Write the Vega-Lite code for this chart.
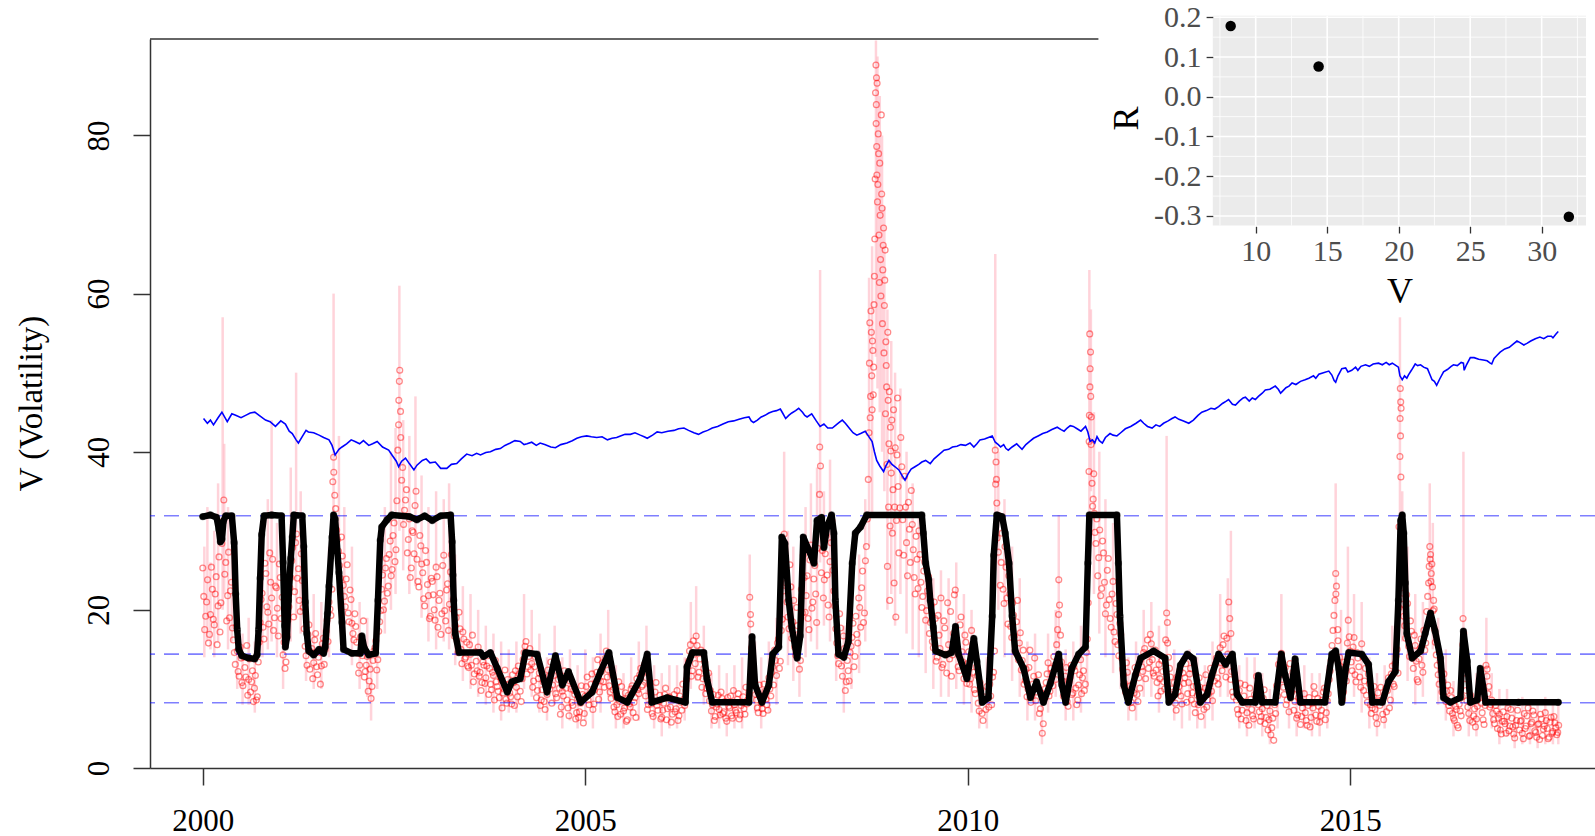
{
"$schema":"https://vega.github.io/schema/vega-lite/v6.json",
"width":1445,"height":729,"autosize":"none",
"padding":{"left":150,"top":39,"right":0,"bottom":68},
"background":"white",
"config":{"view":{"stroke":null},"font":"Liberation Serif","axis":{"grid":false}},
"datasets":{
"red":[{"t":2000,"v":25.3},{"t":2000.025,"v":17.5},{"t":2000.05,"v":21},{"t":2000.075,"v":15.8},{"t":2000.1,"v":19.4},{"t":2000.125,"v":22.6},{"t":2000.15,"v":18.1},{"t":2000.175,"v":24.2},{"t":2000.2,"v":20.5},{"t":2000.225,"v":17.2},{"t":2000.25,"v":28.4},{"t":2000.275,"v":33.9},{"t":2000.3,"v":26},{"t":2000.325,"v":21.8},{"t":2000.35,"v":19},{"t":2000.375,"v":23.5},
{"t":2000.4,"v":16.2},{"t":2000.425,"v":13.1},{"t":2000.45,"v":14.8},{"t":2000.475,"v":11.6},{"t":2000.5,"v":13.9},{"t":2000.525,"v":10.4},{"t":2000.55,"v":12.7},{"t":2000.575,"v":15.5},{"t":2000.6,"v":11.2},{"t":2000.625,"v":9.6},{"t":2000.65,"v":12.3},{"t":2000.675,"v":10.1},{"t":2000.7,"v":8.6},{"t":2000.725,"v":13.4},
{"t":2000.75,"v":18.4},{"t":2000.775,"v":22.1},{"t":2000.8,"v":16.3},{"t":2000.825,"v":24.6},{"t":2000.85,"v":19.7},{"t":2000.875,"v":27.2},{"t":2000.9,"v":21.5},{"t":2000.925,"v":17.4},{"t":2000.95,"v":23},{"t":2000.975,"v":20.2},{"t":2001,"v":25.8},{"t":2001.025,"v":18.9},{"t":2001.05,"v":14.3},{"t":2001.075,"v":12.6},{"t":2001.1,"v":16.8},
{"t":2001.125,"v":20.4},{"t":2001.15,"v":24.1},{"t":2001.175,"v":27.9},{"t":2001.2,"v":22.3},{"t":2001.225,"v":29.6},{"t":2001.25,"v":25.2},{"t":2001.275,"v":19.8},{"t":2001.3,"v":23.7},{"t":2001.325,"v":17.6},{"t":2001.35,"v":14.2},{"t":2001.375,"v":16.9},{"t":2001.4,"v":12.5},{"t":2001.425,"v":15.1},{"t":2001.45,"v":13.3},{"t":2001.475,"v":17},{"t":2001.5,"v":11.8},{"t":2001.525,"v":14.6},{"t":2001.55,"v":12.9},{"t":2001.575,"v":16.4},{"t":2001.6,"v":15},{"t":2001.625,"v":18.7},{"t":2001.65,"v":21},{"t":2001.675,"v":19.3},
{"t":2001.7,"v":36.2},{"t":2001.71,"v":39.3},{"t":2001.725,"v":34.5},{"t":2001.75,"v":30.1},{"t":2001.775,"v":27.4},{"t":2001.8,"v":24},{"t":2001.825,"v":26.8},{"t":2001.85,"v":21.7},{"t":2001.875,"v":23.9},{"t":2001.9,"v":19.6},{"t":2001.925,"v":22.5},{"t":2001.95,"v":18.3},{"t":2001.975,"v":16.2},
{"t":2002,"v":17.9},{"t":2002.025,"v":14.5},{"t":2002.05,"v":13},{"t":2002.075,"v":15.8},{"t":2002.1,"v":18.6},{"t":2002.125,"v":12.2},{"t":2002.15,"v":14.1},{"t":2002.175,"v":11},{"t":2002.2,"v":8.8},{"t":2002.225,"v":13.6},{"t":2002.25,"v":15.2},{"t":2002.275,"v":12.4},{"t":2002.3,"v":17.3},{"t":2002.325,"v":19.9},{"t":2002.35,"v":24.4},{"t":2002.375,"v":21.1},{"t":2002.4,"v":26.5},{"t":2002.425,"v":23},{"t":2002.45,"v":28.7},{"t":2002.475,"v":25.1},{"t":2002.5,"v":31},{"t":2002.525,"v":27.6},{"t":2002.55,"v":40.2},{"t":2002.56,"v":43.4},{"t":2002.57,"v":48.9},{"t":2002.575,"v":50.3},{"t":2002.585,"v":45.1},{"t":2002.6,"v":36.4},{"t":2002.625,"v":30.8},{"t":2002.65,"v":33.9},{"t":2002.675,"v":27.2},{"t":2002.7,"v":31.5},{"t":2002.725,"v":25.3},{"t":2002.75,"v":29.8},{"t":2002.775,"v":33.2},{"t":2002.8,"v":26.4},{"t":2002.825,"v":22.9},{"t":2002.85,"v":28.1},{"t":2002.875,"v":24.7},{"t":2002.9,"v":20.5},{"t":2002.925,"v":26},{"t":2002.95,"v":21.8},{"t":2002.975,"v":19.2},
{"t":2003,"v":23.6},{"t":2003.025,"v":20},{"t":2003.05,"v":25.4},{"t":2003.075,"v":17.8},{"t":2003.1,"v":22.1},{"t":2003.125,"v":19.5},{"t":2003.15,"v":26.9},{"t":2003.175,"v":18.6},{"t":2003.2,"v":23.3},{"t":2003.225,"v":20.7},{"t":2003.25,"v":27},{"t":2003.275,"v":21.4},{"t":2003.3,"v":18},{"t":2003.325,"v":16.1},{"t":2003.35,"v":19.7},{"t":2003.375,"v":15},{"t":2003.4,"v":17.2},{"t":2003.425,"v":13.8},{"t":2003.45,"v":15.9},{"t":2003.475,"v":12.7},{"t":2003.5,"v":14.4},{"t":2003.525,"v":16.8},{"t":2003.55,"v":11.9},{"t":2003.575,"v":13.5},{"t":2003.6,"v":15.3},{"t":2003.625,"v":12.1},{"t":2003.65,"v":10.8},{"t":2003.675,"v":13},{"t":2003.7,"v":11.4},{"t":2003.725,"v":14.2},{"t":2003.75,"v":12.6},{"t":2003.775,"v":9.9},{"t":2003.8,"v":11.7},{"t":2003.825,"v":13.6},{"t":2003.85,"v":10.3},{"t":2003.875,"v":8.9},{"t":2003.9,"v":11.1},{"t":2003.925,"v":9.5},{"t":2003.95,"v":12.4},{"t":2003.975,"v":8.2},
{"t":2004,"v":10.6},{"t":2004.025,"v":9},{"t":2004.05,"v":11.8},{"t":2004.075,"v":7.9},{"t":2004.1,"v":10.2},{"t":2004.125,"v":12.9},{"t":2004.15,"v":9.7},{"t":2004.175,"v":11.3},{"t":2004.2,"v":14.6},{"t":2004.225,"v":16},{"t":2004.25,"v":12.8},{"t":2004.275,"v":15.1},{"t":2004.3,"v":13.2},{"t":2004.325,"v":11},{"t":2004.35,"v":14},{"t":2004.375,"v":9.8},{"t":2004.4,"v":12},{"t":2004.425,"v":8.6},{"t":2004.45,"v":10.9},{"t":2004.475,"v":7.4},{"t":2004.5,"v":9.3},{"t":2004.525,"v":11.6},{"t":2004.55,"v":13.4},{"t":2004.575,"v":10.5},{"t":2004.6,"v":12.7},{"t":2004.625,"v":8.9},{"t":2004.65,"v":11.2},{"t":2004.675,"v":6.8},{"t":2004.7,"v":9.7},{"t":2004.725,"v":12.3},{"t":2004.75,"v":10.1},{"t":2004.775,"v":7.6},{"t":2004.8,"v":11},{"t":2004.825,"v":8.3},{"t":2004.85,"v":9.8},{"t":2004.875,"v":6.2},{"t":2004.9,"v":8.8},{"t":2004.925,"v":7.1},{"t":2004.95,"v":10.4},{"t":2004.975,"v":5.7},
{"t":2005,"v":9.1},{"t":2005.025,"v":11.5},{"t":2005.05,"v":8},{"t":2005.075,"v":10.6},{"t":2005.1,"v":7.4},{"t":2005.125,"v":9.9},{"t":2005.15,"v":12.1},{"t":2005.175,"v":8.7},{"t":2005.2,"v":11},{"t":2005.225,"v":13.3},{"t":2005.25,"v":10.2},{"t":2005.275,"v":14.8},{"t":2005.3,"v":12.4},{"t":2005.325,"v":9.6},{"t":2005.35,"v":11.8},{"t":2005.375,"v":7.7},{"t":2005.4,"v":9},{"t":2005.425,"v":6.5},{"t":2005.45,"v":8.4},{"t":2005.475,"v":10.3},{"t":2005.5,"v":7.2},{"t":2005.525,"v":9.5},{"t":2005.55,"v":6.1},{"t":2005.575,"v":8.1},{"t":2005.6,"v":10},{"t":2005.625,"v":7},{"t":2005.65,"v":8.9},{"t":2005.675,"v":11.3},{"t":2005.7,"v":9.4},{"t":2005.725,"v":12.6},{"t":2005.75,"v":10.5},{"t":2005.775,"v":13.1},{"t":2005.8,"v":11.4},{"t":2005.825,"v":8},{"t":2005.85,"v":9.7},{"t":2005.875,"v":6.9},{"t":2005.9,"v":8.5},{"t":2005.925,"v":10.8},{"t":2005.95,"v":7.3},{"t":2005.975,"v":9.2},
{"t":2006,"v":6.4},{"t":2006.025,"v":8.2},{"t":2006.05,"v":10.1},{"t":2006.075,"v":7.5},{"t":2006.1,"v":9},{"t":2006.125,"v":5.8},{"t":2006.15,"v":8.6},{"t":2006.175,"v":7.1},{"t":2006.2,"v":9.8},{"t":2006.225,"v":6.6},{"t":2006.25,"v":8.3},{"t":2006.275,"v":10.6},{"t":2006.3,"v":7.9},{"t":2006.325,"v":11.2},{"t":2006.35,"v":13.5},{"t":2006.375,"v":15.6},{"t":2006.4,"v":12.3},{"t":2006.425,"v":14.4},{"t":2006.45,"v":16.7},{"t":2006.475,"v":11.5},{"t":2006.5,"v":13.8},{"t":2006.525,"v":10.2},{"t":2006.55,"v":12.6},{"t":2006.575,"v":9.4},{"t":2006.6,"v":11},{"t":2006.625,"v":8.5},{"t":2006.65,"v":7.2},{"t":2006.675,"v":9.3},{"t":2006.7,"v":6.5},{"t":2006.725,"v":8.1},{"t":2006.75,"v":7.4},{"t":2006.775,"v":9.6},{"t":2006.8,"v":6.9},{"t":2006.825,"v":8.4},{"t":2006.85,"v":5.9},{"t":2006.875,"v":7.8},{"t":2006.9,"v":9.1},{"t":2006.925,"v":6.3},{"t":2006.95,"v":8},{"t":2006.975,"v":7},
{"t":2007,"v":9.4},{"t":2007.025,"v":6.7},{"t":2007.05,"v":8.3},{"t":2007.075,"v":7.5},{"t":2007.1,"v":10.2},{"t":2007.125,"v":8.6},{"t":2007.15,"v":21.6},{"t":2007.16,"v":19.4},{"t":2007.175,"v":15.2},{"t":2007.2,"v":11.8},{"t":2007.225,"v":9.3},{"t":2007.25,"v":7.6},{"t":2007.275,"v":10.5},{"t":2007.3,"v":8.2},{"t":2007.325,"v":6.9},{"t":2007.35,"v":9.7},{"t":2007.375,"v":8},{"t":2007.4,"v":11.4},{"t":2007.425,"v":9.1},{"t":2007.45,"v":12.8},{"t":2007.475,"v":14.9},{"t":2007.5,"v":11.7},{"t":2007.525,"v":16.3},{"t":2007.55,"v":13.5},{"t":2007.575,"v":18.8},{"t":2007.6,"v":29.6},{"t":2007.625,"v":23.4},{"t":2007.65,"v":19.1},{"t":2007.675,"v":25.7},{"t":2007.7,"v":16.4},{"t":2007.725,"v":21.2},{"t":2007.75,"v":14.3},{"t":2007.775,"v":18},{"t":2007.8,"v":12.5},{"t":2007.825,"v":22.6},{"t":2007.85,"v":26.9},{"t":2007.875,"v":19.7},{"t":2007.9,"v":24.3},{"t":2007.925,"v":17.5},{"t":2007.95,"v":28.2},{"t":2007.975,"v":21},
{"t":2008,"v":25.6},{"t":2008.025,"v":18.4},{"t":2008.05,"v":30.7},{"t":2008.065,"v":40.6},{"t":2008.075,"v":38.2},{"t":2008.1,"v":27.5},{"t":2008.125,"v":23.8},{"t":2008.15,"v":29.4},{"t":2008.175,"v":20.6},{"t":2008.2,"v":26.1},{"t":2008.225,"v":31.3},{"t":2008.25,"v":22.4},{"t":2008.275,"v":17.6},{"t":2008.3,"v":14.2},{"t":2008.325,"v":19.5},{"t":2008.35,"v":12.9},{"t":2008.375,"v":16.7},{"t":2008.4,"v":9.8},{"t":2008.425,"v":13.6},{"t":2008.45,"v":11},{"t":2008.475,"v":15.4},{"t":2008.5,"v":18.3},{"t":2008.525,"v":14.1},{"t":2008.55,"v":16.9},{"t":2008.575,"v":21.5},{"t":2008.6,"v":17.8},{"t":2008.625,"v":24.9},{"t":2008.65,"v":19.6},{"t":2008.675,"v":28},{"t":2008.7,"v":36.5},{"t":2008.71,"v":42.4},{"t":2008.72,"v":56.3},{"t":2008.73,"v":47},{"t":2008.74,"v":55.1},{"t":2008.75,"v":45.3},{"t":2008.76,"v":52.8},{"t":2008.77,"v":50.7},{"t":2008.78,"v":62.2},{"t":2008.79,"v":74.5},{"t":2008.8,"v":88.9},{"t":2008.805,"v":83.9},{"t":2008.81,"v":78.6},{"t":2008.815,"v":86.6},{"t":2008.82,"v":71.6},{"t":2008.83,"v":80.2},{"t":2008.84,"v":67.4},{"t":2008.85,"v":76.5},{"t":2008.86,"v":64.3},{"t":2008.87,"v":82.6},{"t":2008.88,"v":70.8},{"t":2008.89,"v":63},{"t":2008.9,"v":68.3},{"t":2008.91,"v":58.5},{"t":2008.92,"v":65.5},{"t":2008.93,"v":53.9},{"t":2008.94,"v":48.2},{"t":2008.95,"v":25.5},{"t":2008.96,"v":46.5},{"t":2008.97,"v":41},{"t":2008.98,"v":21.2},{"t":2008.99,"v":43.1},
{"t":2009,"v":37.3},{"t":2009.015,"v":29.7},{"t":2009.03,"v":45.3},{"t":2009.045,"v":33},{"t":2009.06,"v":19.1},{"t":2009.075,"v":39.6},{"t":2009.09,"v":35.6},{"t":2009.1,"v":27.2},{"t":2009.125,"v":41.8},{"t":2009.15,"v":31.4},{"t":2009.175,"v":36.9},{"t":2009.2,"v":28.5},{"t":2009.225,"v":33.6},{"t":2009.25,"v":26},{"t":2009.275,"v":30.8},{"t":2009.3,"v":24.1},{"t":2009.325,"v":29.3},{"t":2009.35,"v":22.7},{"t":2009.375,"v":27},{"t":2009.4,"v":20.3},{"t":2009.425,"v":24.9},{"t":2009.45,"v":18.7},{"t":2009.475,"v":22.4},{"t":2009.5,"v":17},{"t":2009.525,"v":20.6},{"t":2009.55,"v":15.2},{"t":2009.575,"v":18.9},{"t":2009.6,"v":14},{"t":2009.625,"v":16.8},{"t":2009.65,"v":21.5},{"t":2009.675,"v":13.1},{"t":2009.7,"v":17.7},{"t":2009.725,"v":12},{"t":2009.75,"v":15.6},{"t":2009.775,"v":19.8},{"t":2009.8,"v":14.3},{"t":2009.825,"v":21.9},{"t":2009.85,"v":16.2},{"t":2009.875,"v":12.8},{"t":2009.9,"v":18.1},{"t":2009.925,"v":14.7},{"t":2009.95,"v":11.3},{"t":2009.975,"v":15.9},
{"t":2010,"v":13.2},{"t":2010.025,"v":10.6},{"t":2010.05,"v":17.4},{"t":2010.075,"v":12.1},{"t":2010.1,"v":9.4},{"t":2010.125,"v":11.7},{"t":2010.15,"v":7.2},{"t":2010.175,"v":9.9},{"t":2010.2,"v":6},{"t":2010.225,"v":8.6},{"t":2010.25,"v":10.3},{"t":2010.275,"v":7.7},{"t":2010.3,"v":9.1},{"t":2010.325,"v":11.5},{"t":2010.35,"v":14.8},{"t":2010.36,"v":40.2},{"t":2010.37,"v":38.7},{"t":2010.38,"v":33.5},{"t":2010.39,"v":31.6},{"t":2010.4,"v":27.3},{"t":2010.425,"v":23.1},{"t":2010.45,"v":29.7},{"t":2010.475,"v":20.8},{"t":2010.5,"v":25.4},{"t":2010.525,"v":18.2},{"t":2010.55,"v":22},{"t":2010.575,"v":16.5},{"t":2010.6,"v":19.3},{"t":2010.625,"v":14.6},{"t":2010.65,"v":21.2},{"t":2010.675,"v":15.8},{"t":2010.7,"v":12.4},{"t":2010.725,"v":14.9},{"t":2010.75,"v":11.1},{"t":2010.775,"v":9},{"t":2010.8,"v":12.7},{"t":2010.825,"v":8.3},{"t":2010.85,"v":10.6},{"t":2010.875,"v":13.9},{"t":2010.9,"v":9.6},{"t":2010.925,"v":11.8},{"t":2010.95,"v":7.5},{"t":2010.975,"v":4.4},
{"t":2011,"v":8.9},{"t":2011.025,"v":10.8},{"t":2011.05,"v":13.3},{"t":2011.075,"v":9.7},{"t":2011.1,"v":12},{"t":2011.125,"v":14.1},{"t":2011.15,"v":11.2},{"t":2011.175,"v":17.5},{"t":2011.19,"v":23.8},{"t":2011.2,"v":20.6},{"t":2011.225,"v":13.4},{"t":2011.25,"v":9.1},{"t":2011.275,"v":11.6},{"t":2011.3,"v":8.4},{"t":2011.325,"v":10.9},{"t":2011.35,"v":13},{"t":2011.375,"v":9.5},{"t":2011.4,"v":12.3},{"t":2011.425,"v":8},{"t":2011.45,"v":10.5},{"t":2011.475,"v":13.7},{"t":2011.5,"v":11.4},{"t":2011.525,"v":9.8},{"t":2011.55,"v":14.6},{"t":2011.575,"v":20.9},{"t":2011.585,"v":37.5},{"t":2011.59,"v":44.6},{"t":2011.595,"v":54.9},{"t":2011.6,"v":50.5},{"t":2011.605,"v":52.6},{"t":2011.615,"v":44.4},{"t":2011.625,"v":36},{"t":2011.64,"v":34},{"t":2011.655,"v":32.2},{"t":2011.675,"v":28.4},{"t":2011.7,"v":24.3},{"t":2011.725,"v":30.1},{"t":2011.75,"v":22.7},{"t":2011.775,"v":27.2},{"t":2011.8,"v":19.5},{"t":2011.825,"v":25},{"t":2011.85,"v":21.3},{"t":2011.875,"v":17.8},{"t":2011.9,"v":23.6},{"t":2011.925,"v":16},{"t":2011.95,"v":19.4},{"t":2011.975,"v":14.2},
{"t":2012,"v":16.9},{"t":2012.025,"v":12.5},{"t":2012.05,"v":10.7},{"t":2012.075,"v":13.3},{"t":2012.1,"v":8.8},{"t":2012.125,"v":10.4},{"t":2012.15,"v":7.6},{"t":2012.175,"v":9.5},{"t":2012.2,"v":11.9},{"t":2012.225,"v":8.4},{"t":2012.25,"v":10.1},{"t":2012.275,"v":12.8},{"t":2012.3,"v":14.6},{"t":2012.325,"v":11.3},{"t":2012.35,"v":16.2},{"t":2012.375,"v":13.4},{"t":2012.4,"v":15.7},{"t":2012.425,"v":12},{"t":2012.45,"v":14.9},{"t":2012.475,"v":10.8},{"t":2012.5,"v":13.1},{"t":2012.525,"v":9.7},{"t":2012.55,"v":12.2},{"t":2012.575,"v":10},{"t":2012.6,"v":19.6},{"t":2012.61,"v":18.4},{"t":2012.625,"v":14},{"t":2012.65,"v":11.5},{"t":2012.675,"v":8.9},{"t":2012.7,"v":10.8},{"t":2012.725,"v":7.3},{"t":2012.75,"v":9.6},{"t":2012.775,"v":12.4},{"t":2012.8,"v":8.1},{"t":2012.825,"v":10.7},{"t":2012.85,"v":13.2},{"t":2012.875,"v":9.4},{"t":2012.9,"v":11.9},{"t":2012.925,"v":8.6},{"t":2012.95,"v":10.3},{"t":2012.975,"v":7},
{"t":2013,"v":9.2},{"t":2013.025,"v":11.4},{"t":2013.05,"v":6.5},{"t":2013.075,"v":8.8},{"t":2013.1,"v":10.1},{"t":2013.125,"v":7.7},{"t":2013.15,"v":9.4},{"t":2013.175,"v":12.6},{"t":2013.2,"v":8.5},{"t":2013.225,"v":11},{"t":2013.25,"v":13.9},{"t":2013.275,"v":10.6},{"t":2013.3,"v":15.2},{"t":2013.325,"v":12.3},{"t":2013.35,"v":16.7},{"t":2013.375,"v":11.5},{"t":2013.4,"v":14.4},{"t":2013.425,"v":18.9},{"t":2013.44,"v":17},{"t":2013.45,"v":12.2},{"t":2013.475,"v":9},{"t":2013.5,"v":10.9},{"t":2013.525,"v":7.4},{"t":2013.55,"v":9.8},{"t":2013.575,"v":6.2},{"t":2013.6,"v":8.3},{"t":2013.625,"v":10.5},{"t":2013.65,"v":7},{"t":2013.675,"v":5.4},{"t":2013.7,"v":8.7},{"t":2013.725,"v":6.6},{"t":2013.75,"v":9.3},{"t":2013.775,"v":11.6},{"t":2013.8,"v":8},{"t":2013.825,"v":5.9},{"t":2013.85,"v":7.5},{"t":2013.875,"v":9.9},{"t":2013.9,"v":6.4},{"t":2013.925,"v":4.8},{"t":2013.95,"v":7.2},{"t":2013.975,"v":5.1},
{"t":2014,"v":3.5},{"t":2014.025,"v":6.9},{"t":2014.05,"v":9.1},{"t":2014.075,"v":11.8},{"t":2014.1,"v":14.5},{"t":2014.125,"v":10.2},{"t":2014.15,"v":12.7},{"t":2014.175,"v":8.6},{"t":2014.2,"v":7.1},{"t":2014.225,"v":9.7},{"t":2014.25,"v":12.1},{"t":2014.275,"v":8.4},{"t":2014.3,"v":6.3},{"t":2014.325,"v":8.9},{"t":2014.35,"v":5.5},{"t":2014.375,"v":7.6},{"t":2014.4,"v":9.4},{"t":2014.425,"v":6},{"t":2014.45,"v":7.9},{"t":2014.475,"v":5.2},{"t":2014.5,"v":8.2},{"t":2014.525,"v":10.3},{"t":2014.55,"v":6.7},{"t":2014.575,"v":8.8},{"t":2014.6,"v":5.8},{"t":2014.625,"v":7.3},{"t":2014.65,"v":9.6},{"t":2014.675,"v":6.1},{"t":2014.7,"v":8.5},{"t":2014.725,"v":11.2},{"t":2014.75,"v":13.6},{"t":2014.775,"v":17.4},{"t":2014.8,"v":21.2},{"t":2014.81,"v":24.6},{"t":2014.82,"v":23},{"t":2014.84,"v":16.1},{"t":2014.86,"v":12.9},{"t":2014.875,"v":10.4},{"t":2014.9,"v":8.7},{"t":2014.925,"v":13.4},{"t":2014.95,"v":11},{"t":2014.975,"v":18.7},
{"t":2015,"v":14.8},{"t":2015.025,"v":12.3},{"t":2015.05,"v":16.5},{"t":2015.075,"v":10.9},{"t":2015.1,"v":13.9},{"t":2015.125,"v":11.5},{"t":2015.15,"v":15.7},{"t":2015.175,"v":9.8},{"t":2015.2,"v":12.6},{"t":2015.225,"v":8.3},{"t":2015.25,"v":10.7},{"t":2015.275,"v":6.9},{"t":2015.3,"v":9},{"t":2015.325,"v":7.4},{"t":2015.35,"v":5.6},{"t":2015.375,"v":8.5},{"t":2015.4,"v":10.2},{"t":2015.425,"v":6.8},{"t":2015.45,"v":9.3},{"t":2015.475,"v":7.1},{"t":2015.5,"v":11.4},{"t":2015.525,"v":8.6},{"t":2015.55,"v":12.9},{"t":2015.575,"v":10.3},{"t":2015.6,"v":14.2},{"t":2015.625,"v":12},{"t":2015.64,"v":20.3},{"t":2015.65,"v":39.4},{"t":2015.655,"v":48},{"t":2015.66,"v":46.3},{"t":2015.665,"v":45.5},{"t":2015.675,"v":24.6},{"t":2015.69,"v":22.1},{"t":2015.7,"v":19.2},{"t":2015.725,"v":16.4},{"t":2015.75,"v":20.8},{"t":2015.775,"v":14.1},{"t":2015.8,"v":17.3},{"t":2015.825,"v":12.6},{"t":2015.85,"v":15.5},{"t":2015.875,"v":11.2},{"t":2015.9,"v":13.8},{"t":2015.925,"v":16.3},{"t":2015.95,"v":12.1},{"t":2015.975,"v":14.9},
{"t":2016,"v":19.8},{"t":2016.025,"v":23.4},{"t":2016.04,"v":28},{"t":2016.05,"v":27},{"t":2016.06,"v":24.6},{"t":2016.075,"v":22.9},{"t":2016.09,"v":21.2},{"t":2016.1,"v":17.6},{"t":2016.125,"v":14.3},{"t":2016.15,"v":11.8},{"t":2016.175,"v":13.5},{"t":2016.2,"v":9.6},{"t":2016.225,"v":11.9},{"t":2016.25,"v":8.4},{"t":2016.275,"v":10.5},{"t":2016.3,"v":7.2},{"t":2016.325,"v":8.9},{"t":2016.35,"v":6.3},{"t":2016.375,"v":7.8},{"t":2016.4,"v":5.4},{"t":2016.425,"v":8.1},{"t":2016.45,"v":6.6},{"t":2016.475,"v":18.9},{"t":2016.485,"v":17},{"t":2016.5,"v":11.3},{"t":2016.525,"v":8.5},{"t":2016.55,"v":6.9},{"t":2016.575,"v":9.2},{"t":2016.6,"v":5.8},{"t":2016.625,"v":7.5},{"t":2016.65,"v":6.2},{"t":2016.675,"v":8.8},{"t":2016.7,"v":10.1},{"t":2016.725,"v":7},{"t":2016.75,"v":5.5},{"t":2016.775,"v":13},{"t":2016.79,"v":12.5},{"t":2016.8,"v":9.4},{"t":2016.825,"v":7.7},{"t":2016.85,"v":8.6},{"t":2016.875,"v":6.1},{"t":2016.9,"v":7.9},{"t":2016.925,"v":5},{"t":2016.95,"v":6.8},{"t":2016.975,"v":4.3},
{"t":2017,"v":7.1},{"t":2017.025,"v":5.6},{"t":2017.05,"v":6.5},{"t":2017.075,"v":4.7},{"t":2017.1,"v":7.4},{"t":2017.125,"v":5.2},{"t":2017.15,"v":3.8},{"t":2017.175,"v":6},{"t":2017.2,"v":8.3},{"t":2017.225,"v":5.9},{"t":2017.25,"v":4.4},{"t":2017.275,"v":6.9},{"t":2017.3,"v":5.3},{"t":2017.325,"v":7.6},{"t":2017.35,"v":4.1},{"t":2017.375,"v":5.8},{"t":2017.4,"v":6.7},{"t":2017.425,"v":4.5},{"t":2017.45,"v":5.5},{"t":2017.475,"v":3.6},{"t":2017.5,"v":6.2},{"t":2017.525,"v":4.9},{"t":2017.55,"v":7},{"t":2017.575,"v":5},{"t":2017.6,"v":3.9},{"t":2017.625,"v":6.4},{"t":2017.65,"v":4.6},{"t":2017.675,"v":5.7},{"t":2017.7,"v":4.2},{"t":2017.725,"v":5.4}],
"red2":[{"t":2000.0125,"v":21.7},{"t":2000.0375,"v":19.2},{"t":2000.0625,"v":23.8},{"t":2000.0875,"v":16.9},{"t":2000.1125,"v":25.4},{"t":2000.1375,"v":18.8},{"t":2000.1625,"v":22},{"t":2000.1875,"v":15.6},{"t":2000.2125,"v":26.7},{"t":2000.2375,"v":20.9},{"t":2000.2625,"v":31.2},{"t":2000.2875,"v":24.5},{"t":2000.3125,"v":18.6},{"t":2000.3375,"v":27.3},{"t":2000.3625,"v":22.4},{"t":2000.3875,"v":17.7},{"t":2000.4125,"v":14.6},{"t":2000.4375,"v":17.9},{"t":2000.4625,"v":12.2},{"t":2000.4875,"v":15.3},{"t":2000.5125,"v":10.8},{"t":2000.5375,"v":14},{"t":2000.5625,"v":11.5},{"t":2000.5875,"v":9.2},{"t":2000.6125,"v":13.8},{"t":2000.6375,"v":10.9},{"t":2000.6625,"v":8.4},{"t":2000.6875,"v":11.7},{"t":2000.7125,"v":9},{"t":2000.7375,"v":15.9},{"t":2000.7625,"v":21.3},{"t":2000.7875,"v":17.8},{"t":2000.8125,"v":25.9},{"t":2000.8375,"v":20.4},{"t":2000.8625,"v":18.2},{"t":2000.8875,"v":23.5},{"t":2000.9125,"v":26.4},{"t":2000.9375,"v":19},{"t":2000.9625,"v":22.8},{"t":2000.9875,"v":16.7},
{"t":2001.0125,"v":24.1},{"t":2001.0375,"v":21.6},{"t":2001.0625,"v":15.9},{"t":2001.0875,"v":13.4},{"t":2001.1125,"v":18.7},{"t":2001.1375,"v":22.8},{"t":2001.1625,"v":26.2},{"t":2001.1875,"v":19.1},{"t":2001.2125,"v":28.5},{"t":2001.2375,"v":24},{"t":2001.2625,"v":21.2},{"t":2001.2875,"v":27.1},{"t":2001.3125,"v":20.3},{"t":2001.3375,"v":15.4},{"t":2001.3625,"v":13},{"t":2001.3875,"v":18.1},{"t":2001.4125,"v":14.7},{"t":2001.4375,"v":11.3},{"t":2001.4625,"v":16.2},{"t":2001.4875,"v":12.8},{"t":2001.5125,"v":14},{"t":2001.5375,"v":10.6},{"t":2001.5625,"v":15.7},{"t":2001.5875,"v":13.1},{"t":2001.6125,"v":17.3},{"t":2001.6375,"v":16},{"t":2001.6625,"v":20.1},{"t":2001.6875,"v":22.6},{"t":2001.7125,"v":37.4},{"t":2001.7375,"v":32.8},{"t":2001.7625,"v":28.9},{"t":2001.7875,"v":25.6},{"t":2001.8125,"v":29.2},{"t":2001.8375,"v":23.1},{"t":2001.8625,"v":20.4},{"t":2001.8875,"v":25.7},{"t":2001.9125,"v":18.5},{"t":2001.9375,"v":21.3},{"t":2001.9625,"v":17},{"t":2001.9875,"v":19.5},
{"t":2002.0125,"v":15.9},{"t":2002.0375,"v":12},{"t":2002.0625,"v":16.6},{"t":2002.0875,"v":14.2},{"t":2002.1125,"v":11.5},{"t":2002.1375,"v":13},{"t":2002.1625,"v":9.7},{"t":2002.1875,"v":12.5},{"t":2002.2125,"v":10.3},{"t":2002.2375,"v":14.8},{"t":2002.2625,"v":16.1},{"t":2002.2875,"v":13.7},{"t":2002.3125,"v":18.5},{"t":2002.3375,"v":22.6},{"t":2002.3625,"v":20},{"t":2002.3875,"v":25.3},{"t":2002.4125,"v":22.1},{"t":2002.4375,"v":27},{"t":2002.4625,"v":24.3},{"t":2002.4875,"v":29.4},{"t":2002.5125,"v":26.1},{"t":2002.5375,"v":33.8},{"t":2002.5625,"v":46.5},{"t":2002.5875,"v":41.8},{"t":2002.6125,"v":38},{"t":2002.6375,"v":32.6},{"t":2002.6625,"v":35.2},{"t":2002.6875,"v":28.9},{"t":2002.7125,"v":24.1},{"t":2002.7375,"v":30},{"t":2002.7625,"v":27.1},{"t":2002.7875,"v":35},{"t":2002.8125,"v":23.6},{"t":2002.8375,"v":29.4},{"t":2002.8625,"v":25.8},{"t":2002.8875,"v":21.4},{"t":2002.9125,"v":27.5},{"t":2002.9375,"v":23.2},{"t":2002.9625,"v":18.9},{"t":2002.9875,"v":24},
{"t":2003.0125,"v":21.9},{"t":2003.0375,"v":18.7},{"t":2003.0625,"v":24.2},{"t":2003.0875,"v":21.2},{"t":2003.1125,"v":16.9},{"t":2003.1375,"v":25.6},{"t":2003.1625,"v":19.9},{"t":2003.1875,"v":22.5},{"t":2003.2125,"v":17.4},{"t":2003.2375,"v":24.8},{"t":2003.2625,"v":20.1},{"t":2003.2875,"v":16.7},{"t":2003.3125,"v":19},{"t":2003.3375,"v":14.6},{"t":2003.3625,"v":17.6},{"t":2003.3875,"v":13.2},{"t":2003.4125,"v":16.3},{"t":2003.4375,"v":14},{"t":2003.4625,"v":12.9},{"t":2003.4875,"v":15.6},{"t":2003.5125,"v":13},{"t":2003.5375,"v":10.9},{"t":2003.5625,"v":14.7},{"t":2003.5875,"v":12.3},{"t":2003.6125,"v":11.6},{"t":2003.6375,"v":9.8},{"t":2003.6625,"v":13.4},{"t":2003.6875,"v":10.7},{"t":2003.7125,"v":12.9},{"t":2003.7375,"v":9.3},{"t":2003.7625,"v":10.6},{"t":2003.7875,"v":12.1},{"t":2003.8125,"v":8.6},{"t":2003.8375,"v":10.9},{"t":2003.8625,"v":9.7},{"t":2003.8875,"v":11.5},{"t":2003.9125,"v":7.6},{"t":2003.9375,"v":10},{"t":2003.9625,"v":8.7},{"t":2003.9875,"v":11.2},
{"t":2004.0125,"v":9.5},{"t":2004.0375,"v":8.1},{"t":2004.0625,"v":10.8},{"t":2004.0875,"v":12.3},{"t":2004.1125,"v":9},{"t":2004.1375,"v":11.9},{"t":2004.1625,"v":8.4},{"t":2004.1875,"v":13.7},{"t":2004.2125,"v":15.4},{"t":2004.2375,"v":11.9},{"t":2004.2625,"v":14.1},{"t":2004.2875,"v":12.4},{"t":2004.3125,"v":10.2},{"t":2004.3375,"v":12.8},{"t":2004.3625,"v":8.9},{"t":2004.3875,"v":11.3},{"t":2004.4125,"v":7.9},{"t":2004.4375,"v":9.9},{"t":2004.4625,"v":8.4},{"t":2004.4875,"v":10.7},{"t":2004.5125,"v":12.4},{"t":2004.5375,"v":10},{"t":2004.5625,"v":8.2},{"t":2004.5875,"v":11.7},{"t":2004.6125,"v":9.4},{"t":2004.6375,"v":13.2},{"t":2004.6625,"v":10.1},{"t":2004.6875,"v":7.7},{"t":2004.7125,"v":9.1},{"t":2004.7375,"v":11.3},{"t":2004.7625,"v":8.6},{"t":2004.7875,"v":6.6},{"t":2004.8125,"v":10},{"t":2004.8375,"v":7.9},{"t":2004.8625,"v":9.3},{"t":2004.8875,"v":7},{"t":2004.9125,"v":6.4},{"t":2004.9375,"v":8.2},{"t":2004.9625,"v":9.3},{"t":2004.9875,"v":6.9},
{"t":2005.0125,"v":10.3},{"t":2005.0375,"v":8.6},{"t":2005.0625,"v":9.5},{"t":2005.0875,"v":11.9},{"t":2005.1125,"v":8.1},{"t":2005.1375,"v":10.8},{"t":2005.1625,"v":13.7},{"t":2005.1875,"v":9.6},{"t":2005.2125,"v":12.2},{"t":2005.2375,"v":10.9},{"t":2005.2625,"v":13.9},{"t":2005.2875,"v":11.5},{"t":2005.3125,"v":10.4},{"t":2005.3375,"v":8.8},{"t":2005.3625,"v":9.9},{"t":2005.3875,"v":7.1},{"t":2005.4125,"v":8},{"t":2005.4375,"v":10.9},{"t":2005.4625,"v":6.8},{"t":2005.4875,"v":8.7},{"t":2005.5125,"v":7.6},{"t":2005.5375,"v":5.9},{"t":2005.5625,"v":9.2},{"t":2005.5875,"v":7.7},{"t":2005.6125,"v":10.4},{"t":2005.6375,"v":8.3},{"t":2005.6625,"v":6.4},{"t":2005.6875,"v":9.9},{"t":2005.7125,"v":11.8},{"t":2005.7375,"v":10.3},{"t":2005.7625,"v":12.2},{"t":2005.7875,"v":9.1},{"t":2005.8125,"v":7.4},{"t":2005.8375,"v":10.6},{"t":2005.8625,"v":8.1},{"t":2005.8875,"v":6.5},{"t":2005.9125,"v":9.6},{"t":2005.9375,"v":7.9},{"t":2005.9625,"v":8.4},{"t":2005.9875,"v":6.2},
{"t":2006.0125,"v":7.3},{"t":2006.0375,"v":9.3},{"t":2006.0625,"v":6.1},{"t":2006.0875,"v":8.9},{"t":2006.1125,"v":7.7},{"t":2006.1375,"v":6.8},{"t":2006.1625,"v":9.3},{"t":2006.1875,"v":7.5},{"t":2006.2125,"v":6},{"t":2006.2375,"v":9.1},{"t":2006.2625,"v":7.3},{"t":2006.2875,"v":8.7},{"t":2006.3125,"v":9.8},{"t":2006.3375,"v":12.9},{"t":2006.3625,"v":14.8},{"t":2006.3875,"v":11.6},{"t":2006.4125,"v":16.1},{"t":2006.4375,"v":13.2},{"t":2006.4625,"v":15.5},{"t":2006.4875,"v":12.1},{"t":2006.5125,"v":14.9},{"t":2006.5375,"v":11.3},{"t":2006.5625,"v":13.4},{"t":2006.5875,"v":10.1},{"t":2006.6125,"v":12},{"t":2006.6375,"v":9.8},{"t":2006.6625,"v":8},{"t":2006.6875,"v":6},{"t":2006.7125,"v":7.7},{"t":2006.7375,"v":9.2},{"t":2006.7625,"v":6.7},{"t":2006.7875,"v":8.8},{"t":2006.8125,"v":7.1},{"t":2006.8375,"v":6.3},{"t":2006.8625,"v":8.9},{"t":2006.8875,"v":7.6},{"t":2006.9125,"v":6.6},{"t":2006.9375,"v":9.8},{"t":2006.9625,"v":7.3},{"t":2006.9875,"v":8.7},
{"t":2007.0125,"v":6.2},{"t":2007.0375,"v":7.9},{"t":2007.0625,"v":9},{"t":2007.0875,"v":6.8},{"t":2007.1125,"v":8.1},{"t":2007.1375,"v":9.5},{"t":2007.1625,"v":18.2},{"t":2007.1875,"v":13},{"t":2007.2125,"v":10.4},{"t":2007.2375,"v":8.6},{"t":2007.2625,"v":7},{"t":2007.2875,"v":9.1},{"t":2007.3125,"v":7.5},{"t":2007.3375,"v":10.6},{"t":2007.3625,"v":8.7},{"t":2007.3875,"v":7.3},{"t":2007.4125,"v":10},{"t":2007.4375,"v":12.1},{"t":2007.4625,"v":10.5},{"t":2007.4875,"v":13.6},{"t":2007.5125,"v":15.8},{"t":2007.5375,"v":12.6},{"t":2007.5625,"v":17.4},{"t":2007.5875,"v":22.4},{"t":2007.6125,"v":26.5},{"t":2007.6375,"v":21},{"t":2007.6625,"v":17.6},{"t":2007.6875,"v":22.9},{"t":2007.7125,"v":18.5},{"t":2007.7375,"v":15.3},{"t":2007.7625,"v":20.3},{"t":2007.7875,"v":16.9},{"t":2007.8125,"v":13.6},{"t":2007.8375,"v":19.6},{"t":2007.8625,"v":24.1},{"t":2007.8875,"v":21.8},{"t":2007.9125,"v":18.9},{"t":2007.9375,"v":26.3},{"t":2007.9625,"v":20.2},{"t":2007.9875,"v":23.9},
{"t":2008.0125,"v":22},{"t":2008.0375,"v":27.8},{"t":2008.0625,"v":34.6},{"t":2008.0875,"v":24.7},{"t":2008.1125,"v":21.5},{"t":2008.1375,"v":27.1},{"t":2008.1625,"v":24.4},{"t":2008.1875,"v":19.1},{"t":2008.2125,"v":28.5},{"t":2008.2375,"v":25},{"t":2008.2625,"v":20.5},{"t":2008.2875,"v":15.8},{"t":2008.3125,"v":13.2},{"t":2008.3375,"v":17.7},{"t":2008.3625,"v":11.6},{"t":2008.3875,"v":15.1},{"t":2008.4125,"v":10.9},{"t":2008.4375,"v":12.3},{"t":2008.4625,"v":14.6},{"t":2008.4875,"v":16.5},{"t":2008.5125,"v":12.8},{"t":2008.5375,"v":19.2},{"t":2008.5625,"v":15.8},{"t":2008.5875,"v":20.3},{"t":2008.6125,"v":22.8},{"t":2008.6375,"v":18.4},{"t":2008.6625,"v":26.2},{"t":2008.6875,"v":31.5},{"t":2008.715,"v":51.2},{"t":2008.725,"v":44.3},{"t":2008.735,"v":57.8},{"t":2008.745,"v":49.6},{"t":2008.755,"v":54},{"t":2008.765,"v":47.2},{"t":2008.775,"v":58.6},{"t":2008.785,"v":66.9},{"t":2008.795,"v":85.4},{"t":2008.8025,"v":81.5},{"t":2008.8075,"v":87.3},{"t":2008.8125,"v":75},{"t":2008.825,"v":73.8},{"t":2008.835,"v":77.7},{"t":2008.845,"v":61.4},{"t":2008.855,"v":69.9},{"t":2008.865,"v":59.7},{"t":2008.875,"v":72.6},{"t":2008.885,"v":56.2},{"t":2008.895,"v":66.1},{"t":2008.905,"v":52.5},{"t":2008.915,"v":61.7},{"t":2008.925,"v":44.8},{"t":2008.935,"v":50.9},{"t":2008.945,"v":38.4},{"t":2008.955,"v":55.1},{"t":2008.965,"v":33},{"t":2008.975,"v":47.6},{"t":2008.985,"v":30.6},{"t":2008.995,"v":40.1},
{"t":2009.0075,"v":44},{"t":2009.0225,"v":35.2},{"t":2009.0375,"v":23.4},{"t":2009.0525,"v":40.5},{"t":2009.0675,"v":31.3},{"t":2009.0825,"v":46.8},{"t":2009.1125,"v":32.9},{"t":2009.1375,"v":38.1},{"t":2009.1625,"v":26.9},{"t":2009.1875,"v":33},{"t":2009.2125,"v":24.3},{"t":2009.2375,"v":30.2},{"t":2009.2625,"v":35.1},{"t":2009.2875,"v":27.6},{"t":2009.3125,"v":22},{"t":2009.3375,"v":26.4},{"t":2009.3625,"v":30},{"t":2009.3875,"v":23.5},{"t":2009.4125,"v":21.7},{"t":2009.4375,"v":26.1},{"t":2009.4625,"v":19.9},{"t":2009.4875,"v":24.2},{"t":2009.5125,"v":18.4},{"t":2009.5375,"v":16},{"t":2009.5625,"v":21},{"t":2009.5875,"v":13.5},{"t":2009.6125,"v":19.3},{"t":2009.6375,"v":15.1},{"t":2009.6625,"v":12.7},{"t":2009.6875,"v":18.6},{"t":2009.7125,"v":14.4},{"t":2009.7375,"v":20.9},{"t":2009.7625,"v":13.8},{"t":2009.7875,"v":11.6},{"t":2009.8125,"v":17},{"t":2009.8375,"v":22.5},{"t":2009.8625,"v":15},{"t":2009.8875,"v":12.3},{"t":2009.9125,"v":19.1},{"t":2009.9375,"v":13.4},{"t":2009.9625,"v":16.8},{"t":2009.9875,"v":10.7},
{"t":2010.0125,"v":14.7},{"t":2010.0375,"v":11.3},{"t":2010.0625,"v":15.6},{"t":2010.0875,"v":9.9},{"t":2010.1125,"v":12.8},{"t":2010.1375,"v":8.2},{"t":2010.1625,"v":10.8},{"t":2010.1875,"v":6.9},{"t":2010.2125,"v":9},{"t":2010.2375,"v":7.4},{"t":2010.2625,"v":8.8},{"t":2010.2875,"v":10.6},{"t":2010.3125,"v":8},{"t":2010.3375,"v":12.1},{"t":2010.365,"v":35.9},{"t":2010.375,"v":36.5},{"t":2010.385,"v":29.1},{"t":2010.4125,"v":31.9},{"t":2010.4375,"v":26},{"t":2010.4625,"v":22.6},{"t":2010.4875,"v":28},{"t":2010.5125,"v":21.5},{"t":2010.5375,"v":24.3},{"t":2010.5625,"v":17.9},{"t":2010.5875,"v":20.9},{"t":2010.6125,"v":16.7},{"t":2010.6375,"v":18.5},{"t":2010.6625,"v":13.7},{"t":2010.6875,"v":17.1},{"t":2010.7125,"v":13.6},{"t":2010.7375,"v":10.6},{"t":2010.7625,"v":12.5},{"t":2010.7875,"v":10},{"t":2010.8125,"v":14.9},{"t":2010.8375,"v":9.1},{"t":2010.8625,"v":11.6},{"t":2010.8875,"v":8.5},{"t":2010.9125,"v":10.2},{"t":2010.9375,"v":6.9},{"t":2010.9625,"v":9.5},{"t":2010.9875,"v":5.6},
{"t":2011.0125,"v":10},{"t":2011.0375,"v":11.9},{"t":2011.0625,"v":9.1},{"t":2011.0875,"v":12.6},{"t":2011.1125,"v":10.4},{"t":2011.1375,"v":13},{"t":2011.1625,"v":15.6},{"t":2011.1875,"v":19.4},{"t":2011.2125,"v":16.8},{"t":2011.2375,"v":11},{"t":2011.2625,"v":9.8},{"t":2011.2875,"v":12.7},{"t":2011.3125,"v":7.8},{"t":2011.3375,"v":11.4},{"t":2011.3625,"v":9.3},{"t":2011.3875,"v":12.8},{"t":2011.4125,"v":10.1},{"t":2011.4375,"v":8.6},{"t":2011.4625,"v":11.8},{"t":2011.4875,"v":9.4},{"t":2011.5125,"v":12.3},{"t":2011.5375,"v":10.6},{"t":2011.5625,"v":16.3},{"t":2011.5875,"v":41.3},{"t":2011.5975,"v":48.2},{"t":2011.6075,"v":47},{"t":2011.6125,"v":40.9},{"t":2011.6325,"v":33.1},{"t":2011.6475,"v":37.2},{"t":2011.6625,"v":29.8},{"t":2011.6875,"v":31.5},{"t":2011.7125,"v":26.6},{"t":2011.7375,"v":21.8},{"t":2011.7625,"v":28.7},{"t":2011.7875,"v":23.5},{"t":2011.8125,"v":20.6},{"t":2011.8375,"v":26.5},{"t":2011.8625,"v":18.9},{"t":2011.8875,"v":22},{"t":2011.9125,"v":17.2},{"t":2011.9375,"v":20.8},{"t":2011.9625,"v":15.6},{"t":2011.9875,"v":18.3},
{"t":2012.0125,"v":13.9},{"t":2012.0375,"v":11.8},{"t":2012.0625,"v":9.6},{"t":2012.0875,"v":12.1},{"t":2012.1125,"v":9.5},{"t":2012.1375,"v":8.3},{"t":2012.1625,"v":10.7},{"t":2012.1875,"v":12.7},{"t":2012.2125,"v":9.3},{"t":2012.2375,"v":11.4},{"t":2012.2625,"v":13.7},{"t":2012.2875,"v":12.2},{"t":2012.3125,"v":15.1},{"t":2012.3375,"v":14.3},{"t":2012.3625,"v":12.6},{"t":2012.3875,"v":16.9},{"t":2012.4125,"v":13.7},{"t":2012.4375,"v":11.6},{"t":2012.4625,"v":12.4},{"t":2012.4875,"v":9.1},{"t":2012.5125,"v":11.3},{"t":2012.5375,"v":13.6},{"t":2012.5625,"v":10.9},{"t":2012.5875,"v":16.2},{"t":2012.6125,"v":15.8},{"t":2012.6375,"v":12.6},{"t":2012.6625,"v":10},{"t":2012.6875,"v":9.6},{"t":2012.7125,"v":8.2},{"t":2012.7375,"v":11.5},{"t":2012.7625,"v":10.3},{"t":2012.7875,"v":9.1},{"t":2012.8125,"v":12},{"t":2012.8375,"v":11.4},{"t":2012.8625,"v":8.3},{"t":2012.8875,"v":10.8},{"t":2012.9125,"v":12.6},{"t":2012.9375,"v":9.5},{"t":2012.9625,"v":8.1},{"t":2012.9875,"v":10.4},
{"t":2013.0125,"v":8},{"t":2013.0375,"v":10.2},{"t":2013.0625,"v":9.6},{"t":2013.0875,"v":7.4},{"t":2013.1125,"v":11.8},{"t":2013.1375,"v":8.6},{"t":2013.1625,"v":10.6},{"t":2013.1875,"v":9.7},{"t":2013.2125,"v":12.2},{"t":2013.2375,"v":13.1},{"t":2013.2625,"v":11.4},{"t":2013.2875,"v":14.1},{"t":2013.3125,"v":13.3},{"t":2013.3375,"v":15.6},{"t":2013.3625,"v":13},{"t":2013.3875,"v":16.4},{"t":2013.4125,"v":21},{"t":2013.4375,"v":11.2},{"t":2013.4625,"v":9.6},{"t":2013.4875,"v":11.9},{"t":2013.5125,"v":8.6},{"t":2013.5375,"v":6.8},{"t":2013.5625,"v":10.7},{"t":2013.5875,"v":7.3},{"t":2013.6125,"v":9.1},{"t":2013.6375,"v":6},{"t":2013.6625,"v":8.1},{"t":2013.6875,"v":10.1},{"t":2013.7125,"v":7.4},{"t":2013.7375,"v":6.2},{"t":2013.7625,"v":8.5},{"t":2013.7875,"v":10.4},{"t":2013.8125,"v":7.1},{"t":2013.8375,"v":6.5},{"t":2013.8625,"v":8.8},{"t":2013.8875,"v":5.6},{"t":2013.9125,"v":7.9},{"t":2013.9375,"v":6.1},{"t":2013.9625,"v":4.2},{"t":2013.9875,"v":6.3},
{"t":2014.0125,"v":8},{"t":2014.0375,"v":10.4},{"t":2014.0625,"v":13.1},{"t":2014.0875,"v":12},{"t":2014.1125,"v":11.2},{"t":2014.1375,"v":9.3},{"t":2014.1625,"v":8},{"t":2014.1875,"v":10.6},{"t":2014.2125,"v":13.2},{"t":2014.2375,"v":9.6},{"t":2014.2625,"v":7.3},{"t":2014.2875,"v":10},{"t":2014.3125,"v":6.7},{"t":2014.3375,"v":8.4},{"t":2014.3625,"v":6.5},{"t":2014.3875,"v":8.3},{"t":2014.4125,"v":7},{"t":2014.4375,"v":5.4},{"t":2014.4625,"v":8.9},{"t":2014.4875,"v":6.4},{"t":2014.5125,"v":7.6},{"t":2014.5375,"v":9.4},{"t":2014.5625,"v":5.9},{"t":2014.5875,"v":7.8},{"t":2014.6125,"v":6.6},{"t":2014.6375,"v":8.6},{"t":2014.6625,"v":10.1},{"t":2014.6875,"v":7},{"t":2014.7125,"v":9.4},{"t":2014.7375,"v":12.3},{"t":2014.7625,"v":15.5},{"t":2014.7875,"v":19.3},{"t":2014.8125,"v":22},{"t":2014.8375,"v":17.5},{"t":2014.8625,"v":14},{"t":2014.8875,"v":11.9},{"t":2014.9125,"v":9.6},{"t":2014.9375,"v":12.1},{"t":2014.9625,"v":15.8},{"t":2014.9875,"v":16.6},
{"t":2015.0125,"v":13.4},{"t":2015.0375,"v":15.3},{"t":2015.0625,"v":11.8},{"t":2015.0875,"v":14.6},{"t":2015.1125,"v":12.8},{"t":2015.1375,"v":10.2},{"t":2015.1625,"v":14.1},{"t":2015.1875,"v":11},{"t":2015.2125,"v":9.2},{"t":2015.2375,"v":11.9},{"t":2015.2625,"v":8},{"t":2015.2875,"v":7.6},{"t":2015.3125,"v":10.3},{"t":2015.3375,"v":6.4},{"t":2015.3625,"v":9.5},{"t":2015.3875,"v":7.9},{"t":2015.4125,"v":8.6},{"t":2015.4375,"v":6.1},{"t":2015.4625,"v":10},{"t":2015.4875,"v":9.8},{"t":2015.5125,"v":7.6},{"t":2015.5375,"v":11.9},{"t":2015.5625,"v":10.6},{"t":2015.5875,"v":13.2},{"t":2015.6125,"v":15},{"t":2015.6375,"v":30.5},{"t":2015.6525,"v":44.2},{"t":2015.6575,"v":42},{"t":2015.6625,"v":36.8},{"t":2015.6725,"v":27.9},{"t":2015.6825,"v":20.7},{"t":2015.6975,"v":23.7},{"t":2015.7125,"v":18},{"t":2015.7375,"v":21.9},{"t":2015.7625,"v":15.4},{"t":2015.7875,"v":18.6},{"t":2015.8125,"v":13.9},{"t":2015.8375,"v":16.8},{"t":2015.8625,"v":13.5},{"t":2015.8875,"v":10.9},{"t":2015.9125,"v":15.1},{"t":2015.9375,"v":13},{"t":2015.9625,"v":17.4},{"t":2015.9875,"v":15.8},
{"t":2016.0125,"v":21.7},{"t":2016.0325,"v":25.5},{"t":2016.045,"v":26.4},{"t":2016.055,"v":23.6},{"t":2016.0675,"v":25.8},{"t":2016.0825,"v":19.9},{"t":2016.0975,"v":20.1},{"t":2016.1125,"v":15.9},{"t":2016.1375,"v":13},{"t":2016.1625,"v":10.6},{"t":2016.1875,"v":12.4},{"t":2016.2125,"v":10.9},{"t":2016.2375,"v":9},{"t":2016.2625,"v":9.7},{"t":2016.2875,"v":7.9},{"t":2016.3125,"v":9.8},{"t":2016.3375,"v":6.9},{"t":2016.3625,"v":6},{"t":2016.3875,"v":7.4},{"t":2016.4125,"v":5.1},{"t":2016.4375,"v":7.2},{"t":2016.4625,"v":9},{"t":2016.4725,"v":15.6},{"t":2016.4925,"v":13.9},{"t":2016.5125,"v":9.8},{"t":2016.5375,"v":7.7},{"t":2016.5625,"v":6},{"t":2016.5875,"v":8.3},{"t":2016.6125,"v":6.6},{"t":2016.6375,"v":5.2},{"t":2016.6625,"v":7.8},{"t":2016.6875,"v":9.6},{"t":2016.7125,"v":8.2},{"t":2016.7375,"v":6.1},{"t":2016.7625,"v":7.9},{"t":2016.7875,"v":11.6},{"t":2016.8125,"v":10.3},{"t":2016.8375,"v":8},{"t":2016.8625,"v":6.9},{"t":2016.8875,"v":5.6},{"t":2016.9125,"v":7.2},{"t":2016.9375,"v":6.3},{"t":2016.9625,"v":4.8},{"t":2016.9875,"v":5.9},
{"t":2017.0125,"v":5.9},{"t":2017.0375,"v":4.4},{"t":2017.0625,"v":7.6},{"t":2017.0875,"v":5.3},{"t":2017.1125,"v":6.3},{"t":2017.1375,"v":4.3},{"t":2017.1625,"v":5.4},{"t":2017.1875,"v":7.3},{"t":2017.2125,"v":4.8},{"t":2017.2375,"v":6},{"t":2017.2625,"v":3.7},{"t":2017.2875,"v":5},{"t":2017.3125,"v":6.6},{"t":2017.3375,"v":4},{"t":2017.3625,"v":5.6},{"t":2017.3875,"v":7.2},{"t":2017.4125,"v":4.7},{"t":2017.4375,"v":3.9},{"t":2017.4625,"v":5.6},{"t":2017.4875,"v":6.8},{"t":2017.5125,"v":4.1},{"t":2017.5375,"v":5.3},{"t":2017.5625,"v":6},{"t":2017.5875,"v":3.7},{"t":2017.6125,"v":5.8},{"t":2017.6375,"v":4.4},{"t":2017.6625,"v":6.5},{"t":2017.6875,"v":5.1},{"t":2017.7125,"v":4.5}],
"pink":[{"t":2000.02,"l":14,"h":28},{"t":2000.06,"l":16,"h":33},{"t":2000.1,"l":15,"h":26},{"t":2000.15,"l":14,"h":30},{"t":2000.2,"l":16,"h":36},{"t":2000.26,"l":20,"h":57},{"t":2000.28,"l":22,"h":41},{"t":2000.33,"l":15,"h":33},{"t":2000.38,"l":16,"h":30},{"t":2000.45,"l":10,"h":20},{"t":2000.52,"l":8,"h":17},{"t":2000.6,"l":8,"h":19},{"t":2000.68,"l":7,"h":16},{"t":2000.78,"l":14,"h":30},{"t":2000.85,"l":15,"h":34},{"t":2000.9,"l":16,"h":44},{"t":2000.97,"l":14,"h":31},{"t":2001.05,"l":10,"h":22},{"t":2001.15,"l":16,"h":38},{"t":2001.22,"l":19,"h":50},{"t":2001.28,"l":17,"h":35},{"t":2001.35,"l":11,"h":24},{"t":2001.45,"l":10,"h":22},{"t":2001.55,"l":10,"h":21},{"t":2001.65,"l":14,"h":28},{"t":2001.71,"l":28,"h":60},{"t":2001.78,"l":20,"h":42},{"t":2001.85,"l":16,"h":33},{"t":2001.95,"l":13,"h":28},{"t":2002.05,"l":10,"h":21},{"t":2002.15,"l":9,"h":19},{"t":2002.2,"l":6,"h":14},{"t":2002.28,"l":10,"h":24},{"t":2002.38,"l":17,"h":33},{"t":2002.46,"l":20,"h":40},{"t":2002.52,"l":22,"h":43},{"t":2002.57,"l":30,"h":61},{"t":2002.62,"l":25,"h":44},{"t":2002.7,"l":22,"h":42},{"t":2002.78,"l":23,"h":47},{"t":2002.86,"l":19,"h":37},{"t":2002.95,"l":16,"h":33},{"t":2003.05,"l":15,"h":35},{"t":2003.15,"l":16,"h":34},{"t":2003.22,"l":15,"h":36},{"t":2003.3,"l":13,"h":27},{"t":2003.4,"l":11,"h":23},{"t":2003.5,"l":10,"h":22},{"t":2003.6,"l":9,"h":20},{"t":2003.7,"l":8,"h":18},{"t":2003.8,"l":7,"h":17},{"t":2003.9,"l":6,"h":16},{"t":2004,"l":7,"h":15},{"t":2004.1,"l":7,"h":16},{"t":2004.2,"l":10,"h":22},{"t":2004.3,"l":9,"h":20},{"t":2004.4,"l":7,"h":17},{"t":2004.5,"l":6,"h":14},{"t":2004.6,"l":8,"h":18},{"t":2004.7,"l":5,"h":14},{"t":2004.8,"l":6,"h":15},{"t":2004.9,"l":5,"h":13},{"t":2005,"l":6,"h":15},{"t":2005.1,"l":5,"h":14},{"t":2005.2,"l":7,"h":17},{"t":2005.3,"l":9,"h":20},{"t":2005.4,"l":5,"h":13},{"t":2005.5,"l":5,"h":12},{"t":2005.6,"l":6,"h":14},{"t":2005.7,"l":6,"h":16},{"t":2005.8,"l":8,"h":18},{"t":2005.9,"l":5,"h":13},{"t":2006,"l":4,"h":12},{"t":2006.1,"l":5,"h":13},{"t":2006.2,"l":5,"h":13},{"t":2006.3,"l":6,"h":14},{"t":2006.38,"l":10,"h":21},{"t":2006.45,"l":11,"h":23},{"t":2006.55,"l":8,"h":18},{"t":2006.65,"l":5,"h":12},{"t":2006.75,"l":5,"h":13},{"t":2006.85,"l":4,"h":12},{"t":2006.95,"l":5,"h":13},{"t":2007.05,"l":5,"h":14},{"t":2007.15,"l":12,"h":27},{"t":2007.22,"l":7,"h":16},{"t":2007.3,"l":5,"h":14},{"t":2007.4,"l":7,"h":16},{"t":2007.5,"l":8,"h":19},{"t":2007.6,"l":18,"h":40},{"t":2007.65,"l":13,"h":30},{"t":2007.72,"l":11,"h":28},{"t":2007.8,"l":9,"h":22},{"t":2007.88,"l":14,"h":33},{"t":2007.95,"l":16,"h":36},{"t":2008.03,"l":15,"h":38},{"t":2008.07,"l":26,"h":63},{"t":2008.12,"l":18,"h":35},{"t":2008.2,"l":16,"h":39},{"t":2008.28,"l":11,"h":24},{"t":2008.38,"l":7,"h":18},{"t":2008.48,"l":10,"h":22},{"t":2008.58,"l":12,"h":27},{"t":2008.66,"l":16,"h":34},{"t":2008.71,"l":28,"h":62},{"t":2008.75,"l":32,"h":66},{"t":2008.8,"l":52,"h":92},{"t":2008.82,"l":48,"h":90},{"t":2008.85,"l":45,"h":85},{"t":2008.88,"l":40,"h":80},{"t":2008.91,"l":35,"h":71},{"t":2008.95,"l":20,"h":58},{"t":2009,"l":22,"h":54},{"t":2009.05,"l":18,"h":50},{"t":2009.12,"l":22,"h":48},{"t":2009.2,"l":17,"h":40},{"t":2009.28,"l":15,"h":36},{"t":2009.36,"l":14,"h":32},{"t":2009.45,"l":12,"h":28},{"t":2009.55,"l":10,"h":24},{"t":2009.65,"l":9,"h":25},{"t":2009.75,"l":9,"h":24},{"t":2009.85,"l":10,"h":26},{"t":2009.95,"l":8,"h":22},{"t":2010.05,"l":7,"h":20},{"t":2010.15,"l":5,"h":13},{"t":2010.25,"l":5,"h":14},{"t":2010.36,"l":25,"h":65},{"t":2010.4,"l":20,"h":40},{"t":2010.48,"l":14,"h":34},{"t":2010.58,"l":11,"h":28},{"t":2010.68,"l":9,"h":24},{"t":2010.78,"l":6,"h":16},{"t":2010.88,"l":6,"h":17},{"t":2010.97,"l":3,"h":10},{"t":2011.05,"l":7,"h":17},{"t":2011.15,"l":9,"h":20},{"t":2011.19,"l":15,"h":32},{"t":2011.28,"l":6,"h":15},{"t":2011.38,"l":6,"h":16},{"t":2011.48,"l":7,"h":18},{"t":2011.56,"l":10,"h":24},{"t":2011.59,"l":30,"h":63},{"t":2011.61,"l":35,"h":58},{"t":2011.65,"l":22,"h":45},{"t":2011.72,"l":17,"h":40},{"t":2011.8,"l":14,"h":34},{"t":2011.9,"l":12,"h":31},{"t":2012,"l":10,"h":22},{"t":2012.1,"l":6,"h":14},{"t":2012.2,"l":6,"h":16},{"t":2012.3,"l":9,"h":20},{"t":2012.4,"l":9,"h":21},{"t":2012.5,"l":7,"h":18},{"t":2012.6,"l":13,"h":42},{"t":2012.7,"l":6,"h":15},{"t":2012.8,"l":5,"h":14},{"t":2012.9,"l":6,"h":15},{"t":2013,"l":5,"h":14},{"t":2013.1,"l":5,"h":13},{"t":2013.2,"l":6,"h":16},{"t":2013.3,"l":9,"h":22},{"t":2013.4,"l":9,"h":24},{"t":2013.44,"l":12,"h":30},{"t":2013.55,"l":5,"h":13},{"t":2013.65,"l":4,"h":14},{"t":2013.75,"l":5,"h":14},{"t":2013.85,"l":4,"h":12},{"t":2013.95,"l":3,"h":10},{"t":2014.05,"l":5,"h":14},{"t":2014.1,"l":10,"h":22},{"t":2014.2,"l":5,"h":12},{"t":2014.3,"l":4,"h":12},{"t":2014.4,"l":5,"h":13},{"t":2014.5,"l":4,"h":12},{"t":2014.6,"l":4,"h":12},{"t":2014.7,"l":5,"h":13},{"t":2014.81,"l":16,"h":36},{"t":2014.88,"l":8,"h":20},{"t":2014.97,"l":11,"h":28},{"t":2015.05,"l":9,"h":22},{"t":2015.15,"l":7,"h":21},{"t":2015.25,"l":5,"h":14},{"t":2015.35,"l":4,"h":12},{"t":2015.45,"l":5,"h":13},{"t":2015.55,"l":8,"h":18},{"t":2015.65,"l":30,"h":57},{"t":2015.68,"l":16,"h":35},{"t":2015.75,"l":11,"h":28},{"t":2015.85,"l":8,"h":22},{"t":2015.95,"l":9,"h":21},{"t":2016.04,"l":18,"h":36},{"t":2016.08,"l":15,"h":31},{"t":2016.15,"l":8,"h":19},{"t":2016.25,"l":6,"h":15},{"t":2016.35,"l":4,"h":11},{"t":2016.48,"l":11,"h":40},{"t":2016.55,"l":4,"h":12},{"t":2016.65,"l":4,"h":12},{"t":2016.78,"l":8,"h":19},{"t":2016.85,"l":5,"h":12},{"t":2016.95,"l":3,"h":10},{"t":2017.05,"l":4,"h":10},{"t":2017.15,"l":2.5,"h":8},{"t":2017.25,"l":3,"h":9},{"t":2017.35,"l":3,"h":8},{"t":2017.45,"l":2.5,"h":8},{"t":2017.55,"l":3,"h":9},{"t":2017.65,"l":3,"h":8},{"t":2017.72,"l":3,"h":8}],
"black":[{"t":2000,"v":31.8},{"t":2000.1,"v":32},{"t":2000.18,"v":31.7},{"t":2000.21,"v":30.2},{"t":2000.23,"v":28.6},{"t":2000.25,"v":28.9},{"t":2000.27,"v":31.2},{"t":2000.3,"v":31.9},{"t":2000.38,"v":31.9},{"t":2000.41,"v":28.5},{"t":2000.43,"v":22},{"t":2000.45,"v":17.5},{"t":2000.47,"v":15},{"t":2000.51,"v":14.2},{"t":2000.6,"v":13.9},{"t":2000.68,"v":13.8},{"t":2000.71,"v":14.3},{"t":2000.73,"v":17.5},{"t":2000.75,"v":24},{"t":2000.77,"v":29.5},{"t":2000.8,"v":31.9},{"t":2000.9,"v":32},{"t":2001.03,"v":31.9},{"t":2001.05,"v":26},{"t":2001.07,"v":18},{"t":2001.08,"v":15.3},{"t":2001.1,"v":16.5},{"t":2001.12,"v":21.2},{"t":2001.15,"v":26.5},{"t":2001.17,"v":29.2},{"t":2001.19,"v":32},{"t":2001.3,"v":31.9},{"t":2001.32,"v":28},{"t":2001.34,"v":21},{"t":2001.36,"v":17},{"t":2001.385,"v":14.8},{"t":2001.45,"v":14.3},{"t":2001.52,"v":15},{"t":2001.58,"v":14.5},{"t":2001.6,"v":15.3},{"t":2001.63,"v":19.5},{"t":2001.65,"v":23},{"t":2001.69,"v":29.2},{"t":2001.71,"v":32},{"t":2001.73,"v":31.5},{"t":2001.78,"v":24.7},{"t":2001.82,"v":18.4},{"t":2001.84,"v":15},{"t":2001.95,"v":14.5},{"t":2002.06,"v":14.5},{"t":2002.08,"v":16.7},{"t":2002.11,"v":15.2},{"t":2002.17,"v":14.3},{"t":2002.26,"v":14.5},{"t":2002.29,"v":21.2},{"t":2002.32,"v":28.8},{"t":2002.34,"v":30.5},{"t":2002.41,"v":31.4},{"t":2002.47,"v":32},{"t":2002.7,"v":31.8},{"t":2002.8,"v":31.4},{"t":2002.9,"v":31.9},{"t":2003,"v":31.3},{"t":2003.11,"v":31.9},{"t":2003.24,"v":32},{"t":2003.26,"v":28.6},{"t":2003.27,"v":24.4},{"t":2003.28,"v":21.2},{"t":2003.3,"v":17},{"t":2003.35,"v":14.6},{"t":2003.63,"v":14.6},{"t":2003.67,"v":14.1},{"t":2003.76,"v":14.6},{"t":2003.85,"v":12.6},{"t":2003.98,"v":9.6},{"t":2004.04,"v":10.9},{"t":2004.15,"v":11.3},{"t":2004.22,"v":14.6},{"t":2004.37,"v":14.4},{"t":2004.5,"v":9.6},{"t":2004.61,"v":14.2},{"t":2004.7,"v":10.5},{"t":2004.78,"v":12.2},{"t":2004.94,"v":8.3},{"t":2005.09,"v":9.6},{"t":2005.2,"v":12.2},{"t":2005.31,"v":14.6},{"t":2005.42,"v":8.9},{"t":2005.55,"v":8.3},{"t":2005.72,"v":11.3},{"t":2005.81,"v":14.4},{"t":2005.87,"v":8.3},{"t":2006.07,"v":8.9},{"t":2006.31,"v":8.3},{"t":2006.33,"v":12.8},{"t":2006.4,"v":14.6},{"t":2006.55,"v":14.6},{"t":2006.59,"v":11.3},{"t":2006.66,"v":8.3},{"t":2007.14,"v":8.3},{"t":2007.18,"v":16.6},{"t":2007.22,"v":10.5},{"t":2007.31,"v":8.3},{"t":2007.4,"v":10.5},{"t":2007.45,"v":14.4},{"t":2007.53,"v":15.3},{"t":2007.57,"v":29.2},{"t":2007.61,"v":28.4},{"t":2007.66,"v":21.2},{"t":2007.7,"v":17.8},{"t":2007.77,"v":13.9},{"t":2007.81,"v":16.7},{"t":2007.85,"v":29.2},{"t":2007.92,"v":27.6},{"t":2007.99,"v":25.9},{"t":2008.03,"v":31.3},{"t":2008.09,"v":31.7},{"t":2008.12,"v":27.9},{"t":2008.16,"v":30.5},{"t":2008.22,"v":32},{"t":2008.25,"v":29.7},{"t":2008.27,"v":21.2},{"t":2008.31,"v":14.4},{"t":2008.38,"v":14},{"t":2008.44,"v":16},{"t":2008.49,"v":25.9},{"t":2008.53,"v":29.7},{"t":2008.6,"v":30.5},{"t":2008.68,"v":32},{"t":2009.4,"v":32},{"t":2009.42,"v":29.7},{"t":2009.45,"v":25.9},{"t":2009.49,"v":23.8},{"t":2009.51,"v":21.2},{"t":2009.55,"v":17.8},{"t":2009.58,"v":14.8},{"t":2009.71,"v":14.3},{"t":2009.79,"v":14.6},{"t":2009.84,"v":17.9},{"t":2009.88,"v":14.4},{"t":2009.99,"v":11.3},{"t":2010.08,"v":16.4},{"t":2010.12,"v":13.5},{"t":2010.19,"v":8.3},{"t":2010.27,"v":8.9},{"t":2010.32,"v":19.2},{"t":2010.34,"v":26.9},{"t":2010.38,"v":32},{"t":2010.45,"v":31.8},{"t":2010.49,"v":29.7},{"t":2010.54,"v":25.9},{"t":2010.58,"v":19.2},{"t":2010.62,"v":14.8},{"t":2010.73,"v":12.6},{"t":2010.82,"v":8.9},{"t":2010.9,"v":10.9},{"t":2010.99,"v":8.3},{"t":2011.08,"v":10.7},{"t":2011.19,"v":14.4},{"t":2011.23,"v":10.5},{"t":2011.28,"v":8.3},{"t":2011.36,"v":12.6},{"t":2011.45,"v":14.4},{"t":2011.54,"v":15.3},{"t":2011.57,"v":25.9},{"t":2011.59,"v":32},{"t":2011.95,"v":32},{"t":2011.97,"v":25.9},{"t":2011.99,"v":19.2},{"t":2012.04,"v":10.5},{"t":2012.1,"v":8.3},{"t":2012.19,"v":11.7},{"t":2012.26,"v":13.9},{"t":2012.43,"v":14.8},{"t":2012.58,"v":13.9},{"t":2012.63,"v":8.3},{"t":2012.71,"v":9.3},{"t":2012.78,"v":13},{"t":2012.87,"v":14.4},{"t":2012.95,"v":13.8},{"t":2013.04,"v":8.3},{"t":2013.13,"v":9.3},{"t":2013.19,"v":11.7},{"t":2013.28,"v":14.4},{"t":2013.37,"v":13.1},{"t":2013.46,"v":14.4},{"t":2013.52,"v":9.3},{"t":2013.59,"v":8.3},{"t":2013.76,"v":8.3},{"t":2013.8,"v":11.7},{"t":2013.85,"v":8.3},{"t":2014.02,"v":8.3},{"t":2014.1,"v":14.4},{"t":2014.15,"v":11.7},{"t":2014.22,"v":8.9},{"t":2014.28,"v":13.8},{"t":2014.35,"v":8.3},{"t":2014.67,"v":8.3},{"t":2014.76,"v":14.4},{"t":2014.81,"v":14.8},{"t":2014.85,"v":12.6},{"t":2014.89,"v":8.3},{"t":2014.94,"v":12.6},{"t":2014.98,"v":14.6},{"t":2015.15,"v":14.4},{"t":2015.24,"v":13.1},{"t":2015.29,"v":8.3},{"t":2015.42,"v":8.3},{"t":2015.5,"v":10.9},{"t":2015.59,"v":12.2},{"t":2015.63,"v":21.2},{"t":2015.66,"v":31.3},{"t":2015.68,"v":32},{"t":2015.7,"v":29.7},{"t":2015.72,"v":23.4},{"t":2015.74,"v":17},{"t":2015.81,"v":13.9},{"t":2015.92,"v":14.8},{"t":2015.98,"v":17},{"t":2016.05,"v":19.6},{"t":2016.11,"v":17.3},{"t":2016.18,"v":13.9},{"t":2016.22,"v":8.9},{"t":2016.31,"v":8.3},{"t":2016.44,"v":8.9},{"t":2016.48,"v":17.3},{"t":2016.53,"v":13.5},{"t":2016.57,"v":8.3},{"t":2016.66,"v":8.6},{"t":2016.7,"v":12.6},{"t":2016.77,"v":8.3},{"t":2017.2,"v":8.3},{"t":2017.72,"v":8.3}],
"blue":[{"t":2000.01,"s":44.2},{"t":2000.06,"s":43.6},{"t":2000.1,"s":44},{"t":2000.14,"s":43.4},{"t":2000.2,"s":44.3},{"t":2000.25,"s":45},{"t":2000.32,"s":43.8},{"t":2000.38,"s":44.8},{"t":2000.43,"s":44.6},{"t":2000.5,"s":44.3},{"t":2000.56,"s":44.6},{"t":2000.62,"s":44.9},{"t":2000.68,"s":45},{"t":2000.75,"s":44.5},{"t":2000.82,"s":44},{"t":2000.88,"s":43.8},{"t":2000.95,"s":43.2},{"t":2001.02,"s":43.9},{"t":2001.08,"s":43.5},{"t":2001.13,"s":42.6},{"t":2001.17,"s":42.3},{"t":2001.22,"s":41.5},{"t":2001.25,"s":41.1},{"t":2001.3,"s":41.9},{"t":2001.35,"s":42.7},{"t":2001.38,"s":42.5},{"t":2001.45,"s":42.4},{"t":2001.52,"s":42.1},{"t":2001.58,"s":41.8},{"t":2001.65,"s":41.5},{"t":2001.69,"s":40.8},{"t":2001.73,"s":39.6},{"t":2001.78,"s":40.3},{"t":2001.82,"s":40.6},{"t":2001.88,"s":41},{"t":2001.94,"s":41.5},{"t":2001.99,"s":41.3},{"t":2002.05,"s":41},{"t":2002.1,"s":41.4},{"t":2002.17,"s":40.8},{"t":2002.22,"s":41},{"t":2002.28,"s":41.3},{"t":2002.35,"s":40.6},{"t":2002.43,"s":40.2},{"t":2002.48,"s":39.5},{"t":2002.53,"s":38.8},{"t":2002.56,"s":38.1},{"t":2002.6,"s":38.8},{"t":2002.65,"s":39.2},{"t":2002.7,"s":38.5},{"t":2002.76,"s":37.7},{"t":2002.8,"s":38.3},{"t":2002.87,"s":38.9},{"t":2002.92,"s":39.1},{"t":2002.97,"s":38.6},{"t":2003.04,"s":38.7},{"t":2003.11,"s":37.9},{"t":2003.19,"s":37.9},{"t":2003.25,"s":38.4},{"t":2003.32,"s":38.5},{"t":2003.38,"s":39.1},{"t":2003.45,"s":39.7},{"t":2003.52,"s":39.5},{"t":2003.58,"s":39.8},{"t":2003.63,"s":39.6},{"t":2003.7,"s":39.9},{"t":2003.76,"s":40},{"t":2003.83,"s":40.3},{"t":2003.89,"s":40.4},{"t":2003.95,"s":40.8},{"t":2004.02,"s":41.1},{"t":2004.08,"s":41.4},{"t":2004.15,"s":41.3},{"t":2004.2,"s":40.9},{"t":2004.24,"s":41},{"t":2004.3,"s":41.2},{"t":2004.36,"s":40.8},{"t":2004.41,"s":41.1},{"t":2004.47,"s":40.9},{"t":2004.55,"s":40.6},{"t":2004.61,"s":40.5},{"t":2004.68,"s":40.9},{"t":2004.76,"s":41.1},{"t":2004.83,"s":41.4},{"t":2004.89,"s":41.7},{"t":2004.95,"s":41.9},{"t":2005.02,"s":42},{"t":2005.08,"s":41.9},{"t":2005.15,"s":41.8},{"t":2005.22,"s":41.9},{"t":2005.29,"s":41.5},{"t":2005.35,"s":41.7},{"t":2005.41,"s":41.8},{"t":2005.46,"s":42},{"t":2005.52,"s":42.2},{"t":2005.59,"s":42.2},{"t":2005.65,"s":42.4},{"t":2005.72,"s":42.1},{"t":2005.77,"s":41.9},{"t":2005.81,"s":41.7},{"t":2005.88,"s":42.1},{"t":2005.94,"s":42.5},{"t":2006,"s":42.4},{"t":2006.08,"s":42.6},{"t":2006.16,"s":42.7},{"t":2006.22,"s":42.9},{"t":2006.29,"s":43},{"t":2006.35,"s":42.7},{"t":2006.42,"s":42.4},{"t":2006.48,"s":42.2},{"t":2006.54,"s":42.5},{"t":2006.6,"s":42.7},{"t":2006.66,"s":43},{"t":2006.73,"s":43.2},{"t":2006.8,"s":43.5},{"t":2006.87,"s":43.8},{"t":2006.94,"s":43.9},{"t":2007.01,"s":44.1},{"t":2007.08,"s":44.3},{"t":2007.14,"s":44.4},{"t":2007.17,"s":43.9},{"t":2007.2,"s":43.7},{"t":2007.25,"s":44},{"t":2007.3,"s":44.4},{"t":2007.35,"s":44.6},{"t":2007.4,"s":44.9},{"t":2007.45,"s":45.1},{"t":2007.5,"s":45.2},{"t":2007.55,"s":45.4},{"t":2007.58,"s":44.9},{"t":2007.62,"s":44.2},{"t":2007.66,"s":44.6},{"t":2007.7,"s":44.9},{"t":2007.75,"s":45.2},{"t":2007.79,"s":45.5},{"t":2007.84,"s":45},{"t":2007.87,"s":44.6},{"t":2007.9,"s":44.4},{"t":2007.96,"s":44.8},{"t":2008.02,"s":43.9},{"t":2008.07,"s":43.2},{"t":2008.12,"s":43.5},{"t":2008.17,"s":43},{"t":2008.23,"s":43},{"t":2008.28,"s":43.4},{"t":2008.32,"s":43.7},{"t":2008.36,"s":44},{"t":2008.4,"s":43.6},{"t":2008.45,"s":43},{"t":2008.5,"s":42.4},{"t":2008.55,"s":42.1},{"t":2008.6,"s":42.3},{"t":2008.66,"s":42.6},{"t":2008.7,"s":42},{"t":2008.75,"s":41.3},{"t":2008.78,"s":40},{"t":2008.81,"s":38.9},{"t":2008.85,"s":38.2},{"t":2008.9,"s":37.5},{"t":2008.93,"s":38.2},{"t":2008.97,"s":38.9},{"t":2009.01,"s":38.4},{"t":2009.05,"s":38.1},{"t":2009.1,"s":37.7},{"t":2009.14,"s":37},{"t":2009.18,"s":36.4},{"t":2009.22,"s":37.2},{"t":2009.26,"s":37.8},{"t":2009.31,"s":38.1},{"t":2009.36,"s":38.4},{"t":2009.4,"s":38.7},{"t":2009.45,"s":38.9},{"t":2009.51,"s":38.5},{"t":2009.56,"s":39.1},{"t":2009.62,"s":39.6},{"t":2009.69,"s":40.2},{"t":2009.75,"s":40.3},{"t":2009.8,"s":40.6},{"t":2009.86,"s":40.7},{"t":2009.91,"s":40.9},{"t":2009.97,"s":40.8},{"t":2010.03,"s":41.1},{"t":2010.08,"s":40.6},{"t":2010.12,"s":41},{"t":2010.16,"s":41.5},{"t":2010.22,"s":41.6},{"t":2010.27,"s":41.8},{"t":2010.32,"s":42},{"t":2010.36,"s":41.2},{"t":2010.4,"s":40.9},{"t":2010.43,"s":40.6},{"t":2010.47,"s":40.9},{"t":2010.5,"s":40.4},{"t":2010.53,"s":40.2},{"t":2010.58,"s":40.6},{"t":2010.64,"s":41},{"t":2010.68,"s":40.6},{"t":2010.71,"s":40.3},{"t":2010.76,"s":40.9},{"t":2010.81,"s":41.3},{"t":2010.86,"s":41.7},{"t":2010.92,"s":42},{"t":2010.98,"s":42.3},{"t":2011.04,"s":42.5},{"t":2011.1,"s":42.8},{"t":2011.17,"s":43.1},{"t":2011.22,"s":42.8},{"t":2011.26,"s":42.6},{"t":2011.3,"s":43},{"t":2011.34,"s":43.3},{"t":2011.38,"s":43.2},{"t":2011.43,"s":42.9},{"t":2011.48,"s":42.6},{"t":2011.54,"s":43.2},{"t":2011.57,"s":42.5},{"t":2011.6,"s":41.3},{"t":2011.63,"s":41.5},{"t":2011.66,"s":41.1},{"t":2011.69,"s":41.9},{"t":2011.72,"s":41.4},{"t":2011.76,"s":41.1},{"t":2011.8,"s":41.8},{"t":2011.86,"s":42.3},{"t":2011.9,"s":42.1},{"t":2011.95,"s":42},{"t":2012,"s":42.4},{"t":2012.06,"s":42.9},{"t":2012.13,"s":43.2},{"t":2012.2,"s":43.6},{"t":2012.26,"s":44},{"t":2012.3,"s":43.6},{"t":2012.35,"s":43.2},{"t":2012.41,"s":43},{"t":2012.46,"s":43.4},{"t":2012.51,"s":43.2},{"t":2012.56,"s":43.6},{"t":2012.62,"s":43.9},{"t":2012.67,"s":44.2},{"t":2012.71,"s":44.4},{"t":2012.76,"s":44.1},{"t":2012.82,"s":43.9},{"t":2012.89,"s":43.6},{"t":2012.95,"s":44},{"t":2013.01,"s":44.6},{"t":2013.06,"s":45},{"t":2013.12,"s":45.2},{"t":2013.18,"s":45.5},{"t":2013.23,"s":45.4},{"t":2013.28,"s":45.7},{"t":2013.33,"s":46.1},{"t":2013.38,"s":46.4},{"t":2013.41,"s":46.6},{"t":2013.46,"s":46},{"t":2013.5,"s":45.9},{"t":2013.55,"s":46.4},{"t":2013.6,"s":46.8},{"t":2013.63,"s":46.9},{"t":2013.68,"s":46.4},{"t":2013.72,"s":46.8},{"t":2013.76,"s":46.6},{"t":2013.8,"s":47},{"t":2013.85,"s":47.4},{"t":2013.89,"s":47.8},{"t":2013.95,"s":47.9},{"t":2014.02,"s":48.3},{"t":2014.06,"s":47.9},{"t":2014.09,"s":47.4},{"t":2014.11,"s":47.6},{"t":2014.16,"s":48.1},{"t":2014.2,"s":48.3},{"t":2014.24,"s":48.7},{"t":2014.29,"s":48.5},{"t":2014.35,"s":48.9},{"t":2014.41,"s":49.1},{"t":2014.46,"s":49.3},{"t":2014.52,"s":49.6},{"t":2014.55,"s":49.3},{"t":2014.59,"s":49.8},{"t":2014.65,"s":50},{"t":2014.72,"s":50.2},{"t":2014.76,"s":49.7},{"t":2014.79,"s":49},{"t":2014.81,"s":48.8},{"t":2014.84,"s":49.6},{"t":2014.89,"s":50.5},{"t":2014.94,"s":50.6},{"t":2014.97,"s":50.1},{"t":2015.02,"s":50.3},{"t":2015.07,"s":50.7},{"t":2015.1,"s":50.3},{"t":2015.14,"s":50.8},{"t":2015.2,"s":51},{"t":2015.25,"s":50.8},{"t":2015.3,"s":51.1},{"t":2015.37,"s":51.2},{"t":2015.42,"s":51},{"t":2015.47,"s":51.3},{"t":2015.51,"s":51},{"t":2015.55,"s":51.2},{"t":2015.6,"s":50.9},{"t":2015.63,"s":50.7},{"t":2015.65,"s":49.6},{"t":2015.68,"s":49.1},{"t":2015.71,"s":49.6},{"t":2015.74,"s":49.3},{"t":2015.76,"s":49.7},{"t":2015.8,"s":50.3},{"t":2015.85,"s":51.1},{"t":2015.88,"s":50.9},{"t":2015.92,"s":51},{"t":2015.96,"s":50.7},{"t":2016.01,"s":50.5},{"t":2016.04,"s":49.8},{"t":2016.07,"s":49.1},{"t":2016.1,"s":48.9},{"t":2016.13,"s":48.4},{"t":2016.17,"s":49.2},{"t":2016.22,"s":50.1},{"t":2016.27,"s":50.4},{"t":2016.32,"s":50.8},{"t":2016.35,"s":51},{"t":2016.4,"s":50.9},{"t":2016.45,"s":51.3},{"t":2016.48,"s":51.2},{"t":2016.49,"s":50.3},{"t":2016.52,"s":51},{"t":2016.57,"s":51.9},{"t":2016.62,"s":51.9},{"t":2016.68,"s":51.7},{"t":2016.74,"s":51.6},{"t":2016.79,"s":51.5},{"t":2016.83,"s":51.2},{"t":2016.85,"s":51.1},{"t":2016.88,"s":51.8},{"t":2016.92,"s":52.2},{"t":2016.96,"s":52.6},{"t":2017.02,"s":53},{"t":2017.08,"s":53.2},{"t":2017.13,"s":53.6},{"t":2017.18,"s":54},{"t":2017.22,"s":53.8},{"t":2017.27,"s":53.5},{"t":2017.31,"s":53.7},{"t":2017.36,"s":54},{"t":2017.42,"s":54.3},{"t":2017.48,"s":54.5},{"t":2017.53,"s":54.3},{"t":2017.58,"s":54.6},{"t":2017.63,"s":54.6},{"t":2017.65,"s":54.4},{"t":2017.69,"s":54.9},{"t":2017.72,"s":55.2}],
"states":[{"V":8.25,"R":0.178},{"V":14.4,"R":0.076},{"V":31.9,"R":-0.302}],
"majV":[{"g":10},{"g":15},{"g":20},{"g":25},{"g":30}],
"minV":[{"g":7.5},{"g":12.5},{"g":17.5},{"g":22.5},{"g":27.5},{"g":32.5}],
"majR":[{"g":-0.3},{"g":-0.2},{"g":-0.1},{"g":0},{"g":0.1},{"g":0.2}],
"minR":[{"g":-0.25},{"g":-0.15},{"g":-0.05},{"g":0.05},{"g":0.15}]
},
"layer":[
{"layer":[
 {"data":{"name":"pink"},"mark":{"type":"rule","color":"#ffc0cb","strokeWidth":2.5,"opacity":0.7},
  "encoding":{
   "x":{"field":"t","type":"quantitative","scale":{"domain":[1999.31,2018.2],"nice":false,"zero":false},
     "axis":{"values":[2000,2005,2010,2015],"format":"d","title":null,"tickSize":17,"tickWidth":1.5,"tickColor":"#333","domainColor":"#333","domainWidth":1.5,"labelFontSize":31,"labelFont":"Liberation Serif","labelColor":"#000","labelPadding":45,"labelBaseline":"alphabetic","labelFlush":false,"labelOverlap":false,"orient":"bottom"}},
   "y":{"field":"l","type":"quantitative","scale":{"domain":[0,92.2],"nice":false,"zero":false},
     "axis":{"values":[0,20,40,60,80],"title":"V (Volatility)","titleFont":"Liberation Serif","titleFontSize":33,"titleFontWeight":"normal","titleColor":"#000","titleAngle":270,"titleX":-109,"titleY":364,"titleAlign":"center","titleBaseline":"alphabetic","tickSize":17,"tickWidth":1.5,"tickColor":"#333","domainColor":"#333","domainWidth":1.5,"labelFontSize":31,"labelFont":"Liberation Serif","labelColor":"#000","labelAngle":270,"labelAlign":"center","labelBaseline":"alphabetic","labelPadding":25,"labelFlush":false,"labelOverlap":false,"orient":"left"}},
   "y2":{"field":"h"}}},
 {"data":{"name":"red"},"mark":{"type":"point","shape":"circle","filled":false,"stroke":"#ff0000","strokeOpacity":0.65,"strokeWidth":1.3,"size":34},
  "encoding":{"x":{"field":"t","type":"quantitative","scale":{"domain":[1999.31,2018.2],"nice":false,"zero":false}},
   "y":{"field":"v","type":"quantitative","scale":{"domain":[0,92.2],"nice":false,"zero":false}}}},
 {"data":{"name":"red2"},"mark":{"type":"point","shape":"circle","filled":false,"stroke":"#ff0000","strokeOpacity":0.65,"strokeWidth":1.3,"size":34},
  "encoding":{"x":{"field":"t","type":"quantitative","scale":{"domain":[1999.31,2018.2],"nice":false,"zero":false}},
   "y":{"field":"v","type":"quantitative","scale":{"domain":[0,92.2],"nice":false,"zero":false}}}},
 {"data":{"name":"blue"},"mark":{"type":"line","color":"#0000ff","strokeWidth":1.6},
  "encoding":{"x":{"field":"t","type":"quantitative","scale":{"domain":[1999.31,2018.2],"nice":false,"zero":false}},
   "y":{"field":"s","type":"quantitative","scale":{"domain":[0,92.2],"nice":false,"zero":false}}}},
 {"data":{"name":"states"},"mark":{"type":"rule","color":"#0000ff","opacity":0.5,"strokeWidth":1.6,"strokeDash":[15,9]},
  "encoding":{"y":{"field":"V","type":"quantitative","scale":{"domain":[0,92.2],"nice":false,"zero":false}}}},
 {"data":{"values":[{}]},"mark":{"type":"rule","color":"#333","strokeWidth":1.5},
  "encoding":{"y":{"datum":92.2,"type":"quantitative","scale":{"domain":[0,92.2],"nice":false,"zero":false}}}},
 {"data":{"name":"black"},"mark":{"type":"line","color":"#000","strokeWidth":6.5,"strokeJoin":"round","strokeCap":"round"},
  "encoding":{"x":{"field":"t","type":"quantitative","scale":{"domain":[1999.31,2018.2],"nice":false,"zero":false}},
   "y":{"field":"v","type":"quantitative","scale":{"domain":[0,92.2],"nice":false,"zero":false}}}},
 {"data":{"name":"black"},"mark":{"type":"point","shape":"circle","filled":false,"stroke":"#000","strokeOpacity":0.8,"strokeWidth":1.3,"size":36},
  "encoding":{"x":{"field":"t","type":"quantitative","scale":{"domain":[1999.31,2018.2],"nice":false,"zero":false}},
   "y":{"field":"v","type":"quantitative","scale":{"domain":[0,92.2],"nice":false,"zero":false}}}}
]},
{"layer":[
 {"data":{"values":[{}]},"mark":{"type":"rect","color":"#ffffff"},
  "encoding":{"x":{"datum":-1,"type":"quantitative","scale":{"domain":[7.0,33.1],"range":[1062.8,1436.0],"nice":false,"zero":false}},"x2":{"datum":40},
   "y":{"datum":-0.52,"type":"quantitative","scale":{"domain":[-0.324,0.204],"range":[186.5,-23.3],"nice":false,"zero":false}},"y2":{"datum":0.27}}},
 {"data":{"values":[{}]},"mark":{"type":"rect","color":"#ebebeb"},
  "encoding":{"x":{"datum":7.0,"type":"quantitative","scale":{"domain":[7.0,33.1],"range":[1062.8,1436.0],"nice":false,"zero":false}},"x2":{"datum":33.1},
   "y":{"datum":-0.324,"type":"quantitative","scale":{"domain":[-0.324,0.204],"range":[186.5,-23.3],"nice":false,"zero":false}},"y2":{"datum":0.204}}},
 {"data":{"name":"minV"},"mark":{"type":"rule","color":"#ffffff","strokeWidth":0.8},
  "encoding":{"x":{"field":"g","type":"quantitative","scale":{"domain":[7.0,33.1],"range":[1062.8,1436.0],"nice":false,"zero":false}},
   "y":{"datum":-0.324,"type":"quantitative","scale":{"domain":[-0.324,0.204],"range":[186.5,-23.3],"nice":false,"zero":false}},"y2":{"datum":0.204}}},
 {"data":{"name":"majV"},"mark":{"type":"rule","color":"#ffffff","strokeWidth":1.6},
  "encoding":{"x":{"field":"g","type":"quantitative","scale":{"domain":[7.0,33.1],"range":[1062.8,1436.0],"nice":false,"zero":false}},
   "y":{"datum":-0.324,"type":"quantitative","scale":{"domain":[-0.324,0.204],"range":[186.5,-23.3],"nice":false,"zero":false}},"y2":{"datum":0.204}}},
 {"data":{"name":"minR"},"mark":{"type":"rule","color":"#ffffff","strokeWidth":0.8},
  "encoding":{"y":{"field":"g","type":"quantitative","scale":{"domain":[-0.324,0.204],"range":[186.5,-23.3],"nice":false,"zero":false}},
   "x":{"datum":7.0,"type":"quantitative","scale":{"domain":[7.0,33.1],"range":[1062.8,1436.0],"nice":false,"zero":false}},"x2":{"datum":33.1}}},
 {"data":{"name":"majR"},"mark":{"type":"rule","color":"#ffffff","strokeWidth":1.6},
  "encoding":{"y":{"field":"g","type":"quantitative","scale":{"domain":[-0.324,0.204],"range":[186.5,-23.3],"nice":false,"zero":false}},
   "x":{"datum":7.0,"type":"quantitative","scale":{"domain":[7.0,33.1],"range":[1062.8,1436.0],"nice":false,"zero":false}},"x2":{"datum":33.1}}},
 {"data":{"name":"states"},"mark":{"type":"point","shape":"circle","filled":true,"color":"#000","opacity":1,"size":110},
  "encoding":{
   "x":{"field":"V","type":"quantitative","scale":{"domain":[7.0,33.1],"range":[1062.8,1436.0],"nice":false,"zero":false},
     "axis":{"orient":"bottom","offset":-541.7,"zindex":2,"values":[10,15,20,25,30],"format":"d","domain":false,"tickSize":6.7,"tickWidth":1.3,"tickColor":"#333","labelFont":"Liberation Serif","labelFontSize":30,"labelColor":"#4d4d4d","labelPadding":27,"labelBaseline":"alphabetic","labelFlush":false,"labelOverlap":false,"title":"V","titleFont":"Liberation Serif","titleFontSize":36,"titleFontWeight":"normal","titleColor":"#000","titleBaseline":"alphabetic","titleY":76,"titleX":1249.4,"titleAlign":"center"}},
   "y":{"field":"R","type":"quantitative","scale":{"domain":[-0.324,0.204],"range":[186.5,-23.3],"nice":false,"zero":false},
     "axis":{"orient":"left","offset":-1062.8,"zindex":2,"values":[-0.3,-0.2,-0.1,0,0.1,0.2],"labelExpr":"datum.value < 0 ? '-' + format(-datum.value, '.1f') : format(datum.value, '.1f')","domain":false,"tickSize":6.7,"tickWidth":1.3,"tickColor":"#333","labelFont":"Liberation Serif","labelFontSize":30,"labelColor":"#4d4d4d","labelPadding":5,"labelAlign":"right","labelBaseline":"middle","labelFlush":false,"labelOverlap":false,"title":"R","titleFont":"Liberation Serif","titleFontSize":36,"titleFontWeight":"normal","titleColor":"#000","titleAngle":270,"titleBaseline":"alphabetic","titleAlign":"center","titleX":-75,"titleY":79}}}}
]}
],
"resolve":{"scale":{"x":"independent","y":"independent"},"axis":{"x":"independent","y":"independent"}}
}
